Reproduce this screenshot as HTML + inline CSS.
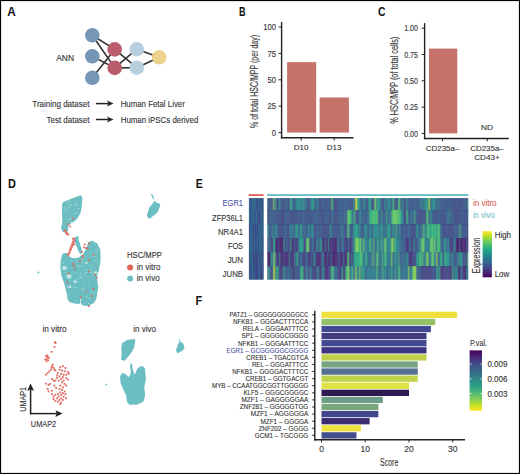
<!DOCTYPE html>
<html><head><meta charset="utf-8"><style>
html,body{margin:0;padding:0;background:#fff;}
svg{display:block;font-family:"Liberation Sans", sans-serif;}
</style></head><body>
<svg width="520" height="474" viewBox="0 0 520 474">
<rect width="520" height="474" fill="#fff"/>
<rect x="0.5" y="0.5" width="519" height="473" fill="none" stroke="#000" stroke-width="1.2"/>
<text x="7.30" y="15.90" font-size="12.3" fill="#111" text-anchor="start" font-weight="bold" textLength="8.50" lengthAdjust="spacingAndGlyphs" >A</text>
<line x1="92.3" y1="35.3" x2="114.7" y2="49.4" stroke="#333" stroke-width="1.6"/>
<line x1="92.3" y1="35.3" x2="114.7" y2="67.9" stroke="#333" stroke-width="1.6"/>
<line x1="92.3" y1="56.3" x2="114.7" y2="67.9" stroke="#333" stroke-width="1.6"/>
<line x1="92.3" y1="77.8" x2="114.7" y2="49.4" stroke="#333" stroke-width="1.6"/>
<line x1="114.7" y1="49.4" x2="136.8" y2="67.7" stroke="#333" stroke-width="1.6"/>
<line x1="114.7" y1="67.9" x2="136.8" y2="49.2" stroke="#333" stroke-width="1.6"/>
<line x1="114.7" y1="67.9" x2="136.8" y2="67.7" stroke="#333" stroke-width="1.6"/>
<line x1="136.8" y1="49.2" x2="159.2" y2="57.3" stroke="#333" stroke-width="1.6"/>
<line x1="136.8" y1="67.7" x2="159.2" y2="57.3" stroke="#333" stroke-width="1.6"/>
<circle cx="92.3" cy="35.3" r="7.3" fill="#7596b6"/>
<circle cx="92.3" cy="56.3" r="7.3" fill="#7596b6"/>
<circle cx="92.3" cy="77.8" r="7.3" fill="#7596b6"/>
<circle cx="114.7" cy="49.4" r="7.3" fill="#b95d6b"/>
<circle cx="114.7" cy="67.9" r="7.3" fill="#b95d6b"/>
<circle cx="136.8" cy="49.2" r="7.3" fill="#b6cede"/>
<circle cx="136.8" cy="67.7" r="7.3" fill="#b6cede"/>
<circle cx="159.2" cy="57.3" r="7.3" fill="#ecd28a"/>
<text x="56.20" y="60.60" font-size="8.6" fill="#333" text-anchor="start" stroke="#333" stroke-width="0.12" textLength="17.80" lengthAdjust="spacingAndGlyphs" >ANN</text>
<text x="32.30" y="107.10" font-size="9" fill="#333" text-anchor="start" stroke="#333" stroke-width="0.12" textLength="57.10" lengthAdjust="spacingAndGlyphs" >Training dataset</text>
<text x="46.60" y="123.10" font-size="9" fill="#333" text-anchor="start" stroke="#333" stroke-width="0.12" textLength="42.80" lengthAdjust="spacingAndGlyphs" >Test dataset</text>
<text x="120.70" y="107.10" font-size="9" fill="#333" text-anchor="start" stroke="#333" stroke-width="0.12" textLength="64.10" lengthAdjust="spacingAndGlyphs" >Human Fetal Liver</text>
<text x="120.70" y="123.10" font-size="9" fill="#333" text-anchor="start" stroke="#333" stroke-width="0.12" textLength="77.60" lengthAdjust="spacingAndGlyphs" >Human iPSCs derived</text>
<line x1="95.9" y1="103.6" x2="109" y2="103.6" stroke="#222" stroke-width="1.5"/>
<path d="M113.5 103.6 L107 100.6 L108.5 103.6 L107 106.6 Z" fill="#222"/>
<line x1="95.9" y1="119.5" x2="109" y2="119.5" stroke="#222" stroke-width="1.5"/>
<path d="M113.5 119.5 L107 116.5 L108.5 119.5 L107 122.5 Z" fill="#222"/>
<text x="239.00" y="15.90" font-size="12.3" fill="#111" text-anchor="start" font-weight="bold" textLength="6.60" lengthAdjust="spacingAndGlyphs" >B</text>
<line x1="281.6" y1="22" x2="281.6" y2="138.4" stroke="#222" stroke-width="1.4"/>
<line x1="280.9" y1="137.7" x2="353.5" y2="137.7" stroke="#222" stroke-width="1.4"/>
<line x1="278.6" y1="132.60" x2="281.6" y2="132.60" stroke="#222" stroke-width="1"/>
<text x="276.00" y="135.70" font-size="8.6" fill="#333" text-anchor="end" stroke="#333" stroke-width="0.12" textLength="4.25" lengthAdjust="spacingAndGlyphs" >0</text>
<line x1="278.6" y1="106.20" x2="281.6" y2="106.20" stroke="#222" stroke-width="1"/>
<text x="276.00" y="109.30" font-size="8.6" fill="#333" text-anchor="end" stroke="#333" stroke-width="0.12" textLength="8.50" lengthAdjust="spacingAndGlyphs" >25</text>
<line x1="278.6" y1="79.80" x2="281.6" y2="79.80" stroke="#222" stroke-width="1"/>
<text x="276.00" y="82.90" font-size="8.6" fill="#333" text-anchor="end" stroke="#333" stroke-width="0.12" textLength="8.50" lengthAdjust="spacingAndGlyphs" >50</text>
<line x1="278.6" y1="53.40" x2="281.6" y2="53.40" stroke="#222" stroke-width="1"/>
<text x="276.00" y="56.50" font-size="8.6" fill="#333" text-anchor="end" stroke="#333" stroke-width="0.12" textLength="8.50" lengthAdjust="spacingAndGlyphs" >75</text>
<line x1="278.6" y1="27.00" x2="281.6" y2="27.00" stroke="#222" stroke-width="1"/>
<text x="276.00" y="30.10" font-size="8.6" fill="#333" text-anchor="end" stroke="#333" stroke-width="0.12" textLength="12.75" lengthAdjust="spacingAndGlyphs" >100</text>
<rect x="287.1" y="62.16" width="29.1" height="70.44" fill="#c5726a"/>
<rect x="319.6" y="97.44" width="29.3" height="35.16" fill="#c5726a"/>
<line x1="301.2" y1="137.7" x2="301.2" y2="140.5" stroke="#222" stroke-width="1"/>
<text x="301.20" y="150.40" font-size="8" fill="#333" text-anchor="middle" stroke="#333" stroke-width="0.12" >D10</text>
<line x1="334.2" y1="137.7" x2="334.2" y2="140.5" stroke="#222" stroke-width="1"/>
<text x="334.20" y="150.40" font-size="8" fill="#333" text-anchor="middle" stroke="#333" stroke-width="0.12" >D13</text>
<text x="258.20" y="81.40" font-size="10.8" fill="#333" text-anchor="middle" stroke="#333" stroke-width="0.12" textLength="93.00" lengthAdjust="spacingAndGlyphs" transform="rotate(-90 258.20 81.40)" >% of total HSC/MPP (per day)</text>
<text x="378.00" y="15.90" font-size="12.3" fill="#111" text-anchor="start" font-weight="bold" textLength="7.50" lengthAdjust="spacingAndGlyphs" >C</text>
<line x1="424.6" y1="23.1" x2="424.6" y2="139.2" stroke="#222" stroke-width="1.4"/>
<line x1="423.9" y1="138.5" x2="508.7" y2="138.5" stroke="#222" stroke-width="1.4"/>
<line x1="421.6" y1="133.40" x2="424.6" y2="133.40" stroke="#222" stroke-width="1"/>
<text x="418.00" y="136.50" font-size="8.6" fill="#333" text-anchor="end" stroke="#333" stroke-width="0.12" textLength="13.80" lengthAdjust="spacingAndGlyphs" >0.00</text>
<line x1="421.6" y1="107.10" x2="424.6" y2="107.10" stroke="#222" stroke-width="1"/>
<text x="418.00" y="110.20" font-size="8.6" fill="#333" text-anchor="end" stroke="#333" stroke-width="0.12" textLength="13.80" lengthAdjust="spacingAndGlyphs" >0.25</text>
<line x1="421.6" y1="80.80" x2="424.6" y2="80.80" stroke="#222" stroke-width="1"/>
<text x="418.00" y="83.90" font-size="8.6" fill="#333" text-anchor="end" stroke="#333" stroke-width="0.12" textLength="13.80" lengthAdjust="spacingAndGlyphs" >0.50</text>
<line x1="421.6" y1="54.50" x2="424.6" y2="54.50" stroke="#222" stroke-width="1"/>
<text x="418.00" y="57.60" font-size="8.6" fill="#333" text-anchor="end" stroke="#333" stroke-width="0.12" textLength="13.80" lengthAdjust="spacingAndGlyphs" >0.75</text>
<line x1="421.6" y1="28.20" x2="424.6" y2="28.20" stroke="#222" stroke-width="1"/>
<text x="418.00" y="31.30" font-size="8.6" fill="#333" text-anchor="end" stroke="#333" stroke-width="0.12" textLength="13.80" lengthAdjust="spacingAndGlyphs" >1.00</text>
<rect x="429" y="48.6" width="28.3" height="84.80" fill="#c5726a"/>
<line x1="442.5" y1="138.5" x2="442.5" y2="141.3" stroke="#222" stroke-width="1"/>
<line x1="487.2" y1="138.5" x2="487.2" y2="141.3" stroke="#222" stroke-width="1"/>
<text x="442.60" y="150.80" font-size="8" fill="#333" text-anchor="middle" stroke="#333" stroke-width="0.12" textLength="33.60" lengthAdjust="spacingAndGlyphs" >CD235a–</text>
<text x="487.00" y="150.80" font-size="8" fill="#333" text-anchor="middle" stroke="#333" stroke-width="0.12" textLength="33.60" lengthAdjust="spacingAndGlyphs" >CD235a–</text>
<text x="487.00" y="160.20" font-size="8" fill="#333" text-anchor="middle" stroke="#333" stroke-width="0.12" textLength="25.60" lengthAdjust="spacingAndGlyphs" >CD43+</text>
<text x="487.00" y="129.80" font-size="8" fill="#333" text-anchor="middle" stroke="#333" stroke-width="0.12" textLength="12.00" lengthAdjust="spacingAndGlyphs" >ND</text>
<text x="398.00" y="80.20" font-size="10.8" fill="#333" text-anchor="middle" stroke="#333" stroke-width="0.12" textLength="87.00" lengthAdjust="spacingAndGlyphs" transform="rotate(-90 398.00 80.20)" >% HSC/MPP (of total cells)</text>
<text x="7.90" y="187.70" font-size="12.3" fill="#111" text-anchor="start" font-weight="bold" textLength="7.90" lengthAdjust="spacingAndGlyphs" >D</text>
<polygon points="62.9,202.3 70.5,199.0 80.6,195.2 82.4,197.2 81.9,205.3 80.6,212.9 76.8,219.2 71.8,223.0 68.5,225.6 68.0,230.6 66.7,233.2 62.9,231.9 61.1,228.1 62.4,221.8 61.9,210.4 62.2,204.0" fill="#6bbec2"/>
<polygon points="60.8,259.9 62.0,255.0 63.5,253.0 67.4,253.0 68.5,255.5 70.5,257.5 75.0,258.2 79.0,257.5 81.0,255.5 82.5,255.0 85.7,249.6 88.4,242.0 92.5,240.7 97.3,243.5 100.2,249.3 100.7,257.0 100.2,263.7 99.2,268.0 98.8,270.9 97.3,273.8 97.3,280.5 98.3,287.2 97.3,293.0 96.3,298.8 94.0,303.0 88.7,306.0 83.8,305.8 81.4,304.5 80.5,302.0 79.5,304.0 74.2,303.6 69.4,302.0 67.5,299.0 67.0,294.0 65.5,289.0 64.1,283.0 61.5,276.0 60.3,268.0" fill="#6bbec2"/>
<polygon points="75.5,237.0 78.5,235.8 78.5,239.5 80.0,244.0 81.5,249.0 82.0,253.0 80.3,254.5 78.5,251.0 76.5,246.5 74.8,242.0 74.5,239.0" fill="#6bbec2"/>
<polygon points="154.4,201.0 155.7,201.0 156.1,202.7 159.5,203.6 160.3,206.1 159.0,208.6 157.8,212.0 155.3,214.5 152.7,216.2 149.8,218.8 147.7,217.5 146.8,215.0 149.3,207.8 152.7,203.6" fill="#6bbec2"/>
<path d="M150.2 193.9 L152.3 194.3 L154.4 198.5 L153.1 198.9 L151.5 195.5 Z" fill="#6bbec2"/>
<circle cx="38.4" cy="272.4" r="1" fill="#6bbec2"/>
<ellipse cx="64.5" cy="268" rx="2.5" ry="2" fill="#fff" opacity="0.6"/>
<ellipse cx="69" cy="276.5" rx="2.5" ry="2.2" fill="#fff" opacity="0.6"/>
<ellipse cx="75.2" cy="281.8" rx="1.8" ry="1.3" fill="#fff" opacity="0.6"/>
<ellipse cx="69.8" cy="286.8" rx="1.4" ry="1.4" fill="#fff" opacity="0.6"/>
<ellipse cx="95.5" cy="272.4" rx="1.5" ry="1.2" fill="#fff" opacity="0.6"/>
<ellipse cx="80.6" cy="300" rx="0.6" ry="2.2" fill="#fff" opacity="0.6"/>
<ellipse cx="86.5" cy="263" rx="1.5" ry="1" fill="#fff" opacity="0.6"/>
<ellipse cx="71.5" cy="222.5" rx="1.2" ry="0.8" fill="#fff" opacity="0.6"/>
<ellipse cx="65" cy="208" rx="0.8" ry="0.8" fill="#fff" opacity="0.6"/>
<rect x="67.0" y="285.7" width="1" height="1" fill="#fff" opacity="0.55"/>
<rect x="86.0" y="272.0" width="1" height="1" fill="#fff" opacity="0.55"/>
<rect x="69.0" y="292.5" width="1" height="1" fill="#fff" opacity="0.55"/>
<rect x="92.9" y="274.2" width="1" height="1" fill="#fff" opacity="0.55"/>
<rect x="92.4" y="255.9" width="1" height="1" fill="#fff" opacity="0.55"/>
<rect x="78.6" y="276.7" width="1" height="1" fill="#fff" opacity="0.55"/>
<rect x="74.2" y="272.4" width="1" height="1" fill="#fff" opacity="0.55"/>
<rect x="95.3" y="256.0" width="1" height="1" fill="#fff" opacity="0.55"/>
<rect x="91.8" y="254.3" width="1" height="1" fill="#fff" opacity="0.55"/>
<rect x="90.8" y="290.5" width="1" height="1" fill="#fff" opacity="0.55"/>
<rect x="83.8" y="288.4" width="1" height="1" fill="#fff" opacity="0.55"/>
<rect x="65.2" y="271.8" width="1" height="1" fill="#fff" opacity="0.55"/>
<rect x="93.7" y="253.8" width="1" height="1" fill="#fff" opacity="0.55"/>
<rect x="76.8" y="264.5" width="1" height="1" fill="#fff" opacity="0.55"/>
<rect x="78.5" y="265.9" width="1" height="1" fill="#fff" opacity="0.55"/>
<rect x="80.3" y="272.8" width="1" height="1" fill="#fff" opacity="0.55"/>
<rect x="82.5" y="289.6" width="1" height="1" fill="#fff" opacity="0.55"/>
<rect x="69.3" y="280.5" width="1" height="1" fill="#fff" opacity="0.55"/>
<rect x="82.8" y="281.4" width="1" height="1" fill="#fff" opacity="0.55"/>
<rect x="74.4" y="301.2" width="1" height="1" fill="#fff" opacity="0.55"/>
<rect x="74.3" y="279.7" width="1" height="1" fill="#fff" opacity="0.55"/>
<rect x="91.7" y="265.2" width="1" height="1" fill="#fff" opacity="0.55"/>
<rect x="87.9" y="284.8" width="1" height="1" fill="#fff" opacity="0.55"/>
<rect x="95.7" y="251.3" width="1" height="1" fill="#fff" opacity="0.55"/>
<rect x="91.6" y="272.3" width="1" height="1" fill="#fff" opacity="0.55"/>
<rect x="94.1" y="244.1" width="1" height="1" fill="#fff" opacity="0.55"/>
<rect x="70.7" y="259.6" width="1" height="1" fill="#fff" opacity="0.55"/>
<rect x="63.1" y="262.8" width="1" height="1" fill="#fff" opacity="0.55"/>
<rect x="90.4" y="272.0" width="1" height="1" fill="#fff" opacity="0.55"/>
<rect x="81.5" y="288.3" width="1" height="1" fill="#fff" opacity="0.55"/>
<rect x="94.2" y="292.6" width="1" height="1" fill="#fff" opacity="0.55"/>
<rect x="77.5" y="278.6" width="1" height="1" fill="#fff" opacity="0.55"/>
<rect x="94.6" y="260.8" width="1" height="1" fill="#fff" opacity="0.55"/>
<rect x="81.9" y="258.7" width="1" height="1" fill="#fff" opacity="0.55"/>
<rect x="88.0" y="303.0" width="1" height="1" fill="#fff" opacity="0.55"/>
<rect x="86.3" y="296.3" width="1" height="1" fill="#fff" opacity="0.55"/>
<rect x="83.9" y="257.5" width="1" height="1" fill="#fff" opacity="0.55"/>
<rect x="76.7" y="303.3" width="1" height="1" fill="#fff" opacity="0.55"/>
<rect x="96.9" y="249.4" width="1" height="1" fill="#fff" opacity="0.55"/>
<rect x="82.1" y="261.9" width="1" height="1" fill="#fff" opacity="0.55"/>
<rect x="75.6" y="287.1" width="1" height="1" fill="#fff" opacity="0.55"/>
<rect x="89.0" y="297.8" width="1" height="1" fill="#fff" opacity="0.55"/>
<rect x="91.6" y="292.3" width="1" height="1" fill="#fff" opacity="0.55"/>
<rect x="67.4" y="287.2" width="1" height="1" fill="#fff" opacity="0.55"/>
<rect x="70.5" y="286.2" width="1" height="1" fill="#fff" opacity="0.55"/>
<rect x="76.0" y="260.9" width="1" height="1" fill="#fff" opacity="0.55"/>
<rect x="96.7" y="260.0" width="1" height="1" fill="#fff" opacity="0.55"/>
<rect x="80.6" y="276.6" width="1" height="1" fill="#fff" opacity="0.55"/>
<rect x="84.6" y="273.9" width="1" height="1" fill="#fff" opacity="0.55"/>
<rect x="90.0" y="303.9" width="1" height="1" fill="#fff" opacity="0.55"/>
<rect x="72.8" y="286.4" width="1" height="1" fill="#fff" opacity="0.55"/>
<rect x="81.5" y="277.3" width="1" height="1" fill="#fff" opacity="0.55"/>
<rect x="91.0" y="270.0" width="1" height="1" fill="#fff" opacity="0.55"/>
<rect x="86.3" y="269.6" width="1" height="1" fill="#fff" opacity="0.55"/>
<rect x="81.2" y="266.1" width="1" height="1" fill="#fff" opacity="0.55"/>
<rect x="69.7" y="203.8" width="1" height="1" fill="#fff" opacity="0.55"/>
<rect x="66.4" y="222.0" width="1" height="1" fill="#fff" opacity="0.55"/>
<rect x="70.8" y="204.2" width="1" height="1" fill="#fff" opacity="0.55"/>
<rect x="69.3" y="213.7" width="1" height="1" fill="#fff" opacity="0.55"/>
<rect x="69.3" y="218.6" width="1" height="1" fill="#fff" opacity="0.55"/>
<rect x="67.8" y="207.0" width="1" height="1" fill="#fff" opacity="0.55"/>
<rect x="69.4" y="200.7" width="1" height="1" fill="#fff" opacity="0.55"/>
<rect x="76.9" y="212.8" width="1" height="1" fill="#fff" opacity="0.55"/>
<rect x="76.1" y="203.0" width="1" height="1" fill="#fff" opacity="0.55"/>
<rect x="68.2" y="219.6" width="1" height="1" fill="#fff" opacity="0.55"/>
<rect x="75.6" y="205.1" width="1" height="1" fill="#fff" opacity="0.55"/>
<rect x="65.4" y="217.9" width="1" height="1" fill="#fff" opacity="0.55"/>
<rect x="67.0" y="209.6" width="1" height="1" fill="#fff" opacity="0.55"/>
<rect x="70.4" y="218.6" width="1" height="1" fill="#fff" opacity="0.55"/>
<rect x="67.1" y="201.8" width="1" height="1" fill="#fff" opacity="0.55"/>
<rect x="69.3" y="205.6" width="1" height="1" fill="#fff" opacity="0.55"/>
<rect x="65.1" y="231.7" width="1" height="1" fill="#fff" opacity="0.55"/>
<rect x="76.0" y="204.3" width="1" height="1" fill="#fff" opacity="0.55"/>
<rect x="65.1" y="210.5" width="1" height="1" fill="#fff" opacity="0.55"/>
<rect x="72.9" y="203.8" width="1" height="1" fill="#fff" opacity="0.55"/>
<rect x="74.3" y="213.1" width="1" height="1" fill="#fff" opacity="0.55"/>
<rect x="78.1" y="208.0" width="1" height="1" fill="#fff" opacity="0.55"/>
<circle cx="64.5" cy="231" r="0.95" fill="#e0665c"/>
<circle cx="66" cy="232.5" r="0.95" fill="#e0665c"/>
<circle cx="67.5" cy="233.5" r="0.95" fill="#e0665c"/>
<circle cx="68.5" cy="234.8" r="0.95" fill="#e0665c"/>
<circle cx="66.5" cy="234" r="0.95" fill="#e0665c"/>
<circle cx="70.3" cy="226.4" r="0.95" fill="#e0665c"/>
<circle cx="72.9" cy="218.5" r="0.95" fill="#e0665c"/>
<circle cx="67.7" cy="224.3" r="0.95" fill="#e0665c"/>
<circle cx="65.5" cy="230" r="0.95" fill="#e0665c"/>
<circle cx="73.5" cy="240" r="0.95" fill="#e0665c"/>
<circle cx="74.2" cy="241" r="0.95" fill="#e0665c"/>
<circle cx="72.8" cy="242" r="0.95" fill="#e0665c"/>
<circle cx="73.6" cy="243" r="0.95" fill="#e0665c"/>
<circle cx="72" cy="244" r="0.95" fill="#e0665c"/>
<circle cx="72.8" cy="245" r="0.95" fill="#e0665c"/>
<circle cx="71.3" cy="246" r="0.95" fill="#e0665c"/>
<circle cx="72" cy="247" r="0.95" fill="#e0665c"/>
<circle cx="70.5" cy="248" r="0.95" fill="#e0665c"/>
<circle cx="71.2" cy="249" r="0.95" fill="#e0665c"/>
<circle cx="69.8" cy="250" r="0.95" fill="#e0665c"/>
<circle cx="70.4" cy="251" r="0.95" fill="#e0665c"/>
<circle cx="69" cy="252.5" r="0.95" fill="#e0665c"/>
<circle cx="69.6" cy="253.3" r="0.95" fill="#e0665c"/>
<circle cx="68.3" cy="254.5" r="0.95" fill="#e0665c"/>
<circle cx="68.1" cy="255.6" r="0.95" fill="#e0665c"/>
<circle cx="74.5" cy="238.5" r="0.95" fill="#e0665c"/>
<circle cx="74" cy="244.5" r="0.95" fill="#e0665c"/>
<circle cx="73" cy="238.8" r="0.95" fill="#e0665c"/>
<circle cx="84.8" cy="244.5" r="0.95" fill="#e0665c"/>
<circle cx="83.8" cy="247.4" r="0.95" fill="#e0665c"/>
<circle cx="86" cy="248" r="0.95" fill="#e0665c"/>
<circle cx="87.5" cy="248.5" r="0.95" fill="#e0665c"/>
<circle cx="89" cy="243.5" r="0.95" fill="#e0665c"/>
<circle cx="82" cy="251.7" r="0.95" fill="#e0665c"/>
<circle cx="82.4" cy="255.6" r="0.95" fill="#e0665c"/>
<circle cx="82.9" cy="257.5" r="0.95" fill="#e0665c"/>
<circle cx="88.7" cy="259.9" r="0.95" fill="#e0665c"/>
<circle cx="93.5" cy="255" r="0.95" fill="#e0665c"/>
<circle cx="73.3" cy="263.7" r="0.95" fill="#e0665c"/>
<circle cx="74" cy="266" r="0.95" fill="#e0665c"/>
<circle cx="80" cy="261" r="0.95" fill="#e0665c"/>
<circle cx="68.5" cy="273.3" r="0.95" fill="#e0665c"/>
<circle cx="67.5" cy="282.4" r="0.95" fill="#e0665c"/>
<circle cx="80.5" cy="297.3" r="0.95" fill="#e0665c"/>
<circle cx="85.8" cy="291.6" r="0.95" fill="#e0665c"/>
<circle cx="93.5" cy="288.7" r="0.95" fill="#e0665c"/>
<circle cx="94.9" cy="274.7" r="0.95" fill="#e0665c"/>
<circle cx="96.8" cy="277.6" r="0.95" fill="#e0665c"/>
<circle cx="88.7" cy="271.4" r="0.95" fill="#e0665c"/>
<circle cx="92" cy="295.9" r="0.95" fill="#e0665c"/>
<circle cx="74.7" cy="269.4" r="0.95" fill="#e0665c"/>
<circle cx="89" cy="306" r="0.95" fill="#e0665c"/>
<text x="127.00" y="257.80" font-size="8.7" fill="#333" text-anchor="start" stroke="#333" stroke-width="0.12" textLength="35.00" lengthAdjust="spacingAndGlyphs" >HSC/MPP</text>
<circle cx="130.1" cy="267.6" r="3" fill="#e0665c"/>
<circle cx="130.1" cy="278.6" r="3" fill="#6bbec2"/>
<text x="136.80" y="269.90" font-size="8.7" fill="#333" text-anchor="start" stroke="#333" stroke-width="0.12" textLength="23.60" lengthAdjust="spacingAndGlyphs" >in vitro</text>
<text x="136.80" y="281.10" font-size="8.7" fill="#333" text-anchor="start" stroke="#333" stroke-width="0.12" textLength="22.90" lengthAdjust="spacingAndGlyphs" >in vivo</text>
<text x="42.40" y="331.60" font-size="8.7" fill="#333" text-anchor="start" stroke="#333" stroke-width="0.12" textLength="24.30" lengthAdjust="spacingAndGlyphs" >in vitro</text>
<text x="133.20" y="331.80" font-size="8.7" fill="#333" text-anchor="start" stroke="#333" stroke-width="0.12" textLength="22.80" lengthAdjust="spacingAndGlyphs" >in vivo</text>
<rect x="54.0" y="341.2" width="1.8" height="1.8" fill="#e0665c"/>
<rect x="54.7" y="342.2" width="1.8" height="1.8" fill="#e0665c"/>
<rect x="53.5" y="346.0" width="1.8" height="1.8" fill="#e0665c"/>
<rect x="50.7" y="351.0" width="1.8" height="1.8" fill="#e0665c"/>
<rect x="45.1" y="355.2" width="1.8" height="1.8" fill="#e0665c"/>
<rect x="46.8" y="356.1" width="1.8" height="1.8" fill="#e0665c"/>
<rect x="46.0" y="357.8" width="1.8" height="1.8" fill="#e0665c"/>
<rect x="44.3" y="358.6" width="1.8" height="1.8" fill="#e0665c"/>
<rect x="47.3" y="359.4" width="1.8" height="1.8" fill="#e0665c"/>
<rect x="45.6" y="360.3" width="1.8" height="1.8" fill="#e0665c"/>
<rect x="48.0" y="356.9" width="1.8" height="1.8" fill="#e0665c"/>
<rect x="46.5" y="354.4" width="1.8" height="1.8" fill="#e0665c"/>
<rect x="51.9" y="363.7" width="1.8" height="1.8" fill="#e0665c"/>
<rect x="51.0" y="365.3" width="1.8" height="1.8" fill="#e0665c"/>
<rect x="52.7" y="367.0" width="1.8" height="1.8" fill="#e0665c"/>
<rect x="50.2" y="368.7" width="1.8" height="1.8" fill="#e0665c"/>
<rect x="54.4" y="369.6" width="1.8" height="1.8" fill="#e0665c"/>
<rect x="48.5" y="370.4" width="1.8" height="1.8" fill="#e0665c"/>
<rect x="46.8" y="372.1" width="1.8" height="1.8" fill="#e0665c"/>
<rect x="45.1" y="373.8" width="1.8" height="1.8" fill="#e0665c"/>
<rect x="50.7" y="366.5" width="1.8" height="1.8" fill="#e0665c"/>
<rect x="53.5" y="368.7" width="1.8" height="1.8" fill="#e0665c"/>
<rect x="59.4" y="366.2" width="1.8" height="1.8" fill="#e0665c"/>
<rect x="62.0" y="365.3" width="1.8" height="1.8" fill="#e0665c"/>
<rect x="64.5" y="367.0" width="1.8" height="1.8" fill="#e0665c"/>
<rect x="58.6" y="368.7" width="1.8" height="1.8" fill="#e0665c"/>
<rect x="61.1" y="369.6" width="1.8" height="1.8" fill="#e0665c"/>
<rect x="63.7" y="370.4" width="1.8" height="1.8" fill="#e0665c"/>
<rect x="67.0" y="371.2" width="1.8" height="1.8" fill="#e0665c"/>
<rect x="56.9" y="372.1" width="1.8" height="1.8" fill="#e0665c"/>
<rect x="60.3" y="372.9" width="1.8" height="1.8" fill="#e0665c"/>
<rect x="62.8" y="373.8" width="1.8" height="1.8" fill="#e0665c"/>
<rect x="65.3" y="373.8" width="1.8" height="1.8" fill="#e0665c"/>
<rect x="67.9" y="372.9" width="1.8" height="1.8" fill="#e0665c"/>
<rect x="56.1" y="374.6" width="1.8" height="1.8" fill="#e0665c"/>
<rect x="58.6" y="375.5" width="1.8" height="1.8" fill="#e0665c"/>
<rect x="62.0" y="376.3" width="1.8" height="1.8" fill="#e0665c"/>
<rect x="65.3" y="377.1" width="1.8" height="1.8" fill="#e0665c"/>
<rect x="60.3" y="378.0" width="1.8" height="1.8" fill="#e0665c"/>
<rect x="62.8" y="379.7" width="1.8" height="1.8" fill="#e0665c"/>
<rect x="67.0" y="378.8" width="1.8" height="1.8" fill="#e0665c"/>
<rect x="57.8" y="379.7" width="1.8" height="1.8" fill="#e0665c"/>
<rect x="61.1" y="381.4" width="1.8" height="1.8" fill="#e0665c"/>
<rect x="63.7" y="383.0" width="1.8" height="1.8" fill="#e0665c"/>
<rect x="65.3" y="384.7" width="1.8" height="1.8" fill="#e0665c"/>
<rect x="59.4" y="384.7" width="1.8" height="1.8" fill="#e0665c"/>
<rect x="62.0" y="386.4" width="1.8" height="1.8" fill="#e0665c"/>
<rect x="56.1" y="377.1" width="1.8" height="1.8" fill="#e0665c"/>
<rect x="54.4" y="379.7" width="1.8" height="1.8" fill="#e0665c"/>
<rect x="51.0" y="378.0" width="1.8" height="1.8" fill="#e0665c"/>
<rect x="52.7" y="379.7" width="1.8" height="1.8" fill="#e0665c"/>
<rect x="49.3" y="383.0" width="1.8" height="1.8" fill="#e0665c"/>
<rect x="45.1" y="382.7" width="1.8" height="1.8" fill="#e0665c"/>
<rect x="47.6" y="383.9" width="1.8" height="1.8" fill="#e0665c"/>
<rect x="53.5" y="384.7" width="1.8" height="1.8" fill="#e0665c"/>
<rect x="55.2" y="387.2" width="1.8" height="1.8" fill="#e0665c"/>
<rect x="46.8" y="388.1" width="1.8" height="1.8" fill="#e0665c"/>
<rect x="47.6" y="390.6" width="1.8" height="1.8" fill="#e0665c"/>
<rect x="51.0" y="389.8" width="1.8" height="1.8" fill="#e0665c"/>
<rect x="58.6" y="388.1" width="1.8" height="1.8" fill="#e0665c"/>
<rect x="61.1" y="388.9" width="1.8" height="1.8" fill="#e0665c"/>
<rect x="63.7" y="390.6" width="1.8" height="1.8" fill="#e0665c"/>
<rect x="59.4" y="391.5" width="1.8" height="1.8" fill="#e0665c"/>
<rect x="62.0" y="392.3" width="1.8" height="1.8" fill="#e0665c"/>
<rect x="56.9" y="393.1" width="1.8" height="1.8" fill="#e0665c"/>
<rect x="64.5" y="393.1" width="1.8" height="1.8" fill="#e0665c"/>
<rect x="60.3" y="394.0" width="1.8" height="1.8" fill="#e0665c"/>
<rect x="54.4" y="394.0" width="1.8" height="1.8" fill="#e0665c"/>
<rect x="57.8" y="395.7" width="1.8" height="1.8" fill="#e0665c"/>
<rect x="62.8" y="395.7" width="1.8" height="1.8" fill="#e0665c"/>
<rect x="52.7" y="395.7" width="1.8" height="1.8" fill="#e0665c"/>
<rect x="56.1" y="397.4" width="1.8" height="1.8" fill="#e0665c"/>
<rect x="60.3" y="397.4" width="1.8" height="1.8" fill="#e0665c"/>
<rect x="65.3" y="397.4" width="1.8" height="1.8" fill="#e0665c"/>
<rect x="52.7" y="398.2" width="1.8" height="1.8" fill="#e0665c"/>
<rect x="58.6" y="399.0" width="1.8" height="1.8" fill="#e0665c"/>
<rect x="62.0" y="399.0" width="1.8" height="1.8" fill="#e0665c"/>
<rect x="56.9" y="400.7" width="1.8" height="1.8" fill="#e0665c"/>
<rect x="60.3" y="401.6" width="1.8" height="1.8" fill="#e0665c"/>
<rect x="54.4" y="399.9" width="1.8" height="1.8" fill="#e0665c"/>
<rect x="59.4" y="403.3" width="1.8" height="1.8" fill="#e0665c"/>
<rect x="51.0" y="393.1" width="1.8" height="1.8" fill="#e0665c"/>
<polygon points="134.8,339.0 127.7,339.8 122.1,342.9 121.3,347.7 121.7,354.0 121.0,359.5 124.5,361.1 127.7,357.2 131.6,352.4 134.0,347.7 135.3,341.3" fill="#6bbec2"/>
<polygon points="130.8,362.7 132.1,364.3 132.4,368.3 134.0,373.0 134.8,374.6 137.2,369.0 139.5,366.7 142.7,365.9 145.1,369.0 145.9,379.3 144.3,387.3 145.1,395.2 143.5,401.5 137.2,404.7 129.3,404.7 126.9,401.5 126.1,395.2 122.9,388.8 120.5,382.5 120.1,376.2 122.1,373.0 125.3,373.8 128.5,377.0 130.0,375.4 130.8,371.4 130.0,366.7" fill="#6bbec2"/>
<polygon points="178.8,338.0 180.7,341.8 183.5,343.7 184.5,348.5 181.6,351.3 177.8,353.2 175.9,350.4 177.8,344.7 179.4,341.9" fill="#6bbec2"/>
<circle cx="106.3" cy="384.6" r="0.9" fill="#6bbec2"/>
<line x1="30.6" y1="389" x2="30.6" y2="414.3" stroke="#222" stroke-width="1.5"/>
<path d="M30.6 383.6 L34 390.8 L30.6 389.4 L27.2 390.8 Z" fill="#222"/>
<line x1="29.9" y1="413.6" x2="57" y2="413.6" stroke="#222" stroke-width="1.5"/>
<path d="M62.5 413.6 L55.4 410.2 L56.8 413.6 L55.4 417 Z" fill="#222"/>
<text x="26.40" y="399.40" font-size="9.8" fill="#333" text-anchor="middle" stroke="#333" stroke-width="0.12" textLength="24.70" lengthAdjust="spacingAndGlyphs" transform="rotate(-90 26.40 399.40)" >UMAP1</text>
<text x="43.50" y="426.90" font-size="9.8" fill="#333" text-anchor="middle" stroke="#333" stroke-width="0.12" textLength="25.30" lengthAdjust="spacingAndGlyphs" >UMAP2</text>
<text x="195.80" y="187.90" font-size="12.3" fill="#111" text-anchor="start" font-weight="bold" textLength="7.00" lengthAdjust="spacingAndGlyphs" >E</text>
<rect x="248.7" y="194.1" width="14.9" height="1.9" fill="#e0665c"/>
<rect x="267.1" y="194.1" width="201.2" height="1.9" fill="#6bbec2"/>
<text x="243.00" y="206.30" font-size="9.2" fill="#4d55a8" text-anchor="end" stroke="#4d55a8" stroke-width="0.12" textLength="20.40" lengthAdjust="spacingAndGlyphs" >EGR1</text>
<text x="243.00" y="220.60" font-size="9.2" fill="#333" text-anchor="end" stroke="#333" stroke-width="0.12" textLength="30.90" lengthAdjust="spacingAndGlyphs" >ZFP36L1</text>
<text x="243.00" y="234.50" font-size="9.2" fill="#333" text-anchor="end" stroke="#333" stroke-width="0.12" textLength="25.00" lengthAdjust="spacingAndGlyphs" >NR4A1</text>
<text x="243.00" y="249.30" font-size="9.2" fill="#333" text-anchor="end" stroke="#333" stroke-width="0.12" textLength="15.10" lengthAdjust="spacingAndGlyphs" >FOS</text>
<text x="243.00" y="263.20" font-size="9.2" fill="#333" text-anchor="end" stroke="#333" stroke-width="0.12" textLength="15.30" lengthAdjust="spacingAndGlyphs" >JUN</text>
<text x="243.00" y="277.20" font-size="9.2" fill="#333" text-anchor="end" stroke="#333" stroke-width="0.12" textLength="20.40" lengthAdjust="spacingAndGlyphs" >JUNB</text>
<rect x="267.30" y="198.10" width="1.5" height="12.60" fill="#395a89"/>
<rect x="268.30" y="198.10" width="1.5" height="12.60" fill="#3b5588"/>
<rect x="269.30" y="198.10" width="1.5" height="12.60" fill="#3b5588"/>
<rect x="270.30" y="198.10" width="1.5" height="12.60" fill="#3c5387"/>
<rect x="271.30" y="198.10" width="1.5" height="12.60" fill="#3c5287"/>
<rect x="272.30" y="198.10" width="1.5" height="12.60" fill="#4b647d"/>
<rect x="273.30" y="198.10" width="1.5" height="12.60" fill="#7fb057"/>
<rect x="274.30" y="198.10" width="1.5" height="12.60" fill="#437a7f"/>
<rect x="275.30" y="198.10" width="1.5" height="12.60" fill="#2c8e86"/>
<rect x="276.30" y="198.10" width="1.5" height="12.60" fill="#395c85"/>
<rect x="277.30" y="198.10" width="1.5" height="12.60" fill="#423c7d"/>
<rect x="278.30" y="198.10" width="1.5" height="12.60" fill="#366387"/>
<rect x="279.30" y="198.10" width="1.5" height="12.60" fill="#2c8f85"/>
<rect x="280.30" y="198.10" width="1.5" height="12.60" fill="#395f87"/>
<rect x="281.30" y="198.10" width="1.5" height="12.60" fill="#3e4e86"/>
<rect x="282.30" y="198.10" width="1.5" height="12.60" fill="#3b5487"/>
<rect x="283.30" y="198.10" width="1.5" height="12.60" fill="#3d5086"/>
<rect x="284.30" y="198.10" width="1.5" height="12.60" fill="#3d4e86"/>
<rect x="285.30" y="198.10" width="1.5" height="12.60" fill="#375d8a"/>
<rect x="286.30" y="198.10" width="1.5" height="12.60" fill="#35648a"/>
<rect x="287.30" y="198.10" width="1.5" height="12.60" fill="#3c5287"/>
<rect x="288.30" y="198.10" width="1.5" height="12.60" fill="#3d5187"/>
<rect x="289.30" y="198.10" width="1.5" height="12.60" fill="#386987"/>
<rect x="290.30" y="198.10" width="1.5" height="12.60" fill="#34a17f"/>
<rect x="291.30" y="198.10" width="1.5" height="12.60" fill="#2a9287"/>
<rect x="292.30" y="198.10" width="1.5" height="12.60" fill="#336a8a"/>
<rect x="293.30" y="198.10" width="1.5" height="12.60" fill="#395888"/>
<rect x="294.30" y="198.10" width="1.5" height="12.60" fill="#3c5287"/>
<rect x="295.30" y="198.10" width="1.5" height="12.60" fill="#30708b"/>
<rect x="296.30" y="198.10" width="1.5" height="12.60" fill="#29828b"/>
<rect x="297.30" y="198.10" width="1.5" height="12.60" fill="#28858b"/>
<rect x="298.30" y="198.10" width="1.5" height="12.60" fill="#28858b"/>
<rect x="299.30" y="198.10" width="1.5" height="12.60" fill="#29848b"/>
<rect x="300.30" y="198.10" width="1.5" height="12.60" fill="#29838b"/>
<rect x="301.30" y="198.10" width="1.5" height="12.60" fill="#2b7d8b"/>
<rect x="302.30" y="198.10" width="1.5" height="12.60" fill="#337189"/>
<rect x="303.30" y="198.10" width="1.5" height="12.60" fill="#359481"/>
<rect x="304.30" y="198.10" width="1.5" height="12.60" fill="#386685"/>
<rect x="305.30" y="198.10" width="1.5" height="12.60" fill="#2c7c89"/>
<rect x="306.30" y="198.10" width="1.5" height="12.60" fill="#395a88"/>
<rect x="307.30" y="198.10" width="1.5" height="12.60" fill="#3c5287"/>
<rect x="308.30" y="198.10" width="1.5" height="12.60" fill="#3b5387"/>
<rect x="309.30" y="198.10" width="1.5" height="12.60" fill="#3b5487"/>
<rect x="310.30" y="198.10" width="1.5" height="12.60" fill="#366588"/>
<rect x="311.30" y="198.10" width="1.5" height="12.60" fill="#299b84"/>
<rect x="312.30" y="198.10" width="1.5" height="12.60" fill="#299b84"/>
<rect x="313.30" y="198.10" width="1.5" height="12.60" fill="#336f88"/>
<rect x="314.30" y="198.10" width="1.5" height="12.60" fill="#2c8188"/>
<rect x="315.30" y="198.10" width="1.5" height="12.60" fill="#3a5987"/>
<rect x="316.30" y="198.10" width="1.5" height="12.60" fill="#395d87"/>
<rect x="317.30" y="198.10" width="1.5" height="12.60" fill="#2d8786"/>
<rect x="318.30" y="198.10" width="1.5" height="12.60" fill="#395d87"/>
<rect x="319.30" y="198.10" width="1.5" height="12.60" fill="#404784"/>
<rect x="320.30" y="198.10" width="1.5" height="12.60" fill="#404684"/>
<rect x="321.30" y="198.10" width="1.5" height="12.60" fill="#395889"/>
<rect x="322.30" y="198.10" width="1.5" height="12.60" fill="#3a5889"/>
<rect x="323.30" y="198.10" width="1.5" height="12.60" fill="#3a5888"/>
<rect x="324.30" y="198.10" width="1.5" height="12.60" fill="#395989"/>
<rect x="325.30" y="198.10" width="1.5" height="12.60" fill="#3d4f87"/>
<rect x="326.30" y="198.10" width="1.5" height="12.60" fill="#3c5287"/>
<rect x="327.30" y="198.10" width="1.5" height="12.60" fill="#395989"/>
<rect x="328.30" y="198.10" width="1.5" height="12.60" fill="#385c8a"/>
<rect x="329.30" y="198.10" width="1.5" height="12.60" fill="#3b5388"/>
<rect x="330.30" y="198.10" width="1.5" height="12.60" fill="#46577e"/>
<rect x="331.30" y="198.10" width="1.5" height="12.60" fill="#54ab6d"/>
<rect x="332.30" y="198.10" width="1.5" height="12.60" fill="#339282"/>
<rect x="333.30" y="198.10" width="1.5" height="12.60" fill="#3d5084"/>
<rect x="334.30" y="198.10" width="1.5" height="12.60" fill="#414584"/>
<rect x="335.30" y="198.10" width="1.5" height="12.60" fill="#3d4e86"/>
<rect x="336.30" y="198.10" width="1.5" height="12.60" fill="#3e4d86"/>
<rect x="337.30" y="198.10" width="1.5" height="12.60" fill="#3c5287"/>
<rect x="338.30" y="198.10" width="1.5" height="12.60" fill="#385a89"/>
<rect x="339.30" y="198.10" width="1.5" height="12.60" fill="#375d8a"/>
<rect x="340.30" y="198.10" width="1.5" height="12.60" fill="#375d8a"/>
<rect x="341.30" y="198.10" width="1.5" height="12.60" fill="#395989"/>
<rect x="342.30" y="198.10" width="1.5" height="12.60" fill="#395889"/>
<rect x="343.30" y="198.10" width="1.5" height="12.60" fill="#385b89"/>
<rect x="344.30" y="198.10" width="1.5" height="12.60" fill="#35628a"/>
<rect x="345.30" y="198.10" width="1.5" height="12.60" fill="#385a89"/>
<rect x="346.30" y="198.10" width="1.5" height="12.60" fill="#395888"/>
<rect x="347.30" y="198.10" width="1.5" height="12.60" fill="#395989"/>
<rect x="348.30" y="198.10" width="1.5" height="12.60" fill="#3a5688"/>
<rect x="349.30" y="198.10" width="1.5" height="12.60" fill="#375d8a"/>
<rect x="350.30" y="198.10" width="1.5" height="12.60" fill="#385b8a"/>
<rect x="351.30" y="198.10" width="1.5" height="12.60" fill="#3e4d86"/>
<rect x="352.30" y="198.10" width="1.5" height="12.60" fill="#395b87"/>
<rect x="353.30" y="198.10" width="1.5" height="12.60" fill="#2b8089"/>
<rect x="354.30" y="198.10" width="1.5" height="12.60" fill="#4a757c"/>
<rect x="355.30" y="198.10" width="1.5" height="12.60" fill="#a9c93b"/>
<rect x="356.30" y="198.10" width="1.5" height="12.60" fill="#a7d13c"/>
<rect x="357.30" y="198.10" width="1.5" height="12.60" fill="#3d997c"/>
<rect x="358.30" y="198.10" width="1.5" height="12.60" fill="#269289"/>
<rect x="359.30" y="198.10" width="1.5" height="12.60" fill="#29848b"/>
<rect x="360.30" y="198.10" width="1.5" height="12.60" fill="#326a8a"/>
<rect x="361.30" y="198.10" width="1.5" height="12.60" fill="#3a5888"/>
<rect x="362.30" y="198.10" width="1.5" height="12.60" fill="#3a5686"/>
<rect x="363.30" y="198.10" width="1.5" height="12.60" fill="#2a808a"/>
<rect x="364.30" y="198.10" width="1.5" height="12.60" fill="#2b808b"/>
<rect x="365.30" y="198.10" width="1.5" height="12.60" fill="#395a88"/>
<rect x="366.30" y="198.10" width="1.5" height="12.60" fill="#3c5187"/>
<rect x="367.30" y="198.10" width="1.5" height="12.60" fill="#3a5887"/>
<rect x="368.30" y="198.10" width="1.5" height="12.60" fill="#298b89"/>
<rect x="369.30" y="198.10" width="1.5" height="12.60" fill="#269e86"/>
<rect x="370.30" y="198.10" width="1.5" height="12.60" fill="#299586"/>
<rect x="371.30" y="198.10" width="1.5" height="12.60" fill="#385f87"/>
<rect x="372.30" y="198.10" width="1.5" height="12.60" fill="#404885"/>
<rect x="373.30" y="198.10" width="1.5" height="12.60" fill="#445c80"/>
<rect x="374.30" y="198.10" width="1.5" height="12.60" fill="#5db368"/>
<rect x="375.30" y="198.10" width="1.5" height="12.60" fill="#5cb569"/>
<rect x="376.30" y="198.10" width="1.5" height="12.60" fill="#3d7282"/>
<rect x="377.30" y="198.10" width="1.5" height="12.60" fill="#299685"/>
<rect x="378.30" y="198.10" width="1.5" height="12.60" fill="#269b87"/>
<rect x="379.30" y="198.10" width="1.5" height="12.60" fill="#299188"/>
<rect x="380.30" y="198.10" width="1.5" height="12.60" fill="#35678a"/>
<rect x="381.30" y="198.10" width="1.5" height="12.60" fill="#3b5688"/>
<rect x="382.30" y="198.10" width="1.5" height="12.60" fill="#3d5087"/>
<rect x="383.30" y="198.10" width="1.5" height="12.60" fill="#3b5687"/>
<rect x="384.30" y="198.10" width="1.5" height="12.60" fill="#2c7b8a"/>
<rect x="385.30" y="198.10" width="1.5" height="12.60" fill="#2c7b8b"/>
<rect x="386.30" y="198.10" width="1.5" height="12.60" fill="#366088"/>
<rect x="387.30" y="198.10" width="1.5" height="12.60" fill="#2b7e8a"/>
<rect x="388.30" y="198.10" width="1.5" height="12.60" fill="#26918a"/>
<rect x="389.30" y="198.10" width="1.5" height="12.60" fill="#288a89"/>
<rect x="390.30" y="198.10" width="1.5" height="12.60" fill="#375f88"/>
<rect x="391.30" y="198.10" width="1.5" height="12.60" fill="#356789"/>
<rect x="392.30" y="198.10" width="1.5" height="12.60" fill="#2e9884"/>
<rect x="393.30" y="198.10" width="1.5" height="12.60" fill="#41a778"/>
<rect x="394.30" y="198.10" width="1.5" height="12.60" fill="#405d83"/>
<rect x="395.30" y="198.10" width="1.5" height="12.60" fill="#3f4b86"/>
<rect x="396.30" y="198.10" width="1.5" height="12.60" fill="#3b5588"/>
<rect x="397.30" y="198.10" width="1.5" height="12.60" fill="#3c6685"/>
<rect x="398.30" y="198.10" width="1.5" height="12.60" fill="#46ad75"/>
<rect x="399.30" y="198.10" width="1.5" height="12.60" fill="#46ac75"/>
<rect x="400.30" y="198.10" width="1.5" height="12.60" fill="#3d6484"/>
<rect x="401.30" y="198.10" width="1.5" height="12.60" fill="#2f738b"/>
<rect x="402.30" y="198.10" width="1.5" height="12.60" fill="#2d798b"/>
<rect x="403.30" y="198.10" width="1.5" height="12.60" fill="#376089"/>
<rect x="404.30" y="198.10" width="1.5" height="12.60" fill="#3d4f86"/>
<rect x="405.30" y="198.10" width="1.5" height="12.60" fill="#3c5785"/>
<rect x="406.30" y="198.10" width="1.5" height="12.60" fill="#2d8a85"/>
<rect x="407.30" y="198.10" width="1.5" height="12.60" fill="#376388"/>
<rect x="408.30" y="198.10" width="1.5" height="12.60" fill="#3b5688"/>
<rect x="409.30" y="198.10" width="1.5" height="12.60" fill="#395b89"/>
<rect x="410.30" y="198.10" width="1.5" height="12.60" fill="#395a89"/>
<rect x="411.30" y="198.10" width="1.5" height="12.60" fill="#3c5187"/>
<rect x="412.30" y="198.10" width="1.5" height="12.60" fill="#395989"/>
<rect x="413.30" y="198.10" width="1.5" height="12.60" fill="#375d8a"/>
<rect x="414.30" y="198.10" width="1.5" height="12.60" fill="#3b5488"/>
<rect x="415.30" y="198.10" width="1.5" height="12.60" fill="#34648a"/>
<rect x="416.30" y="198.10" width="1.5" height="12.60" fill="#3a5788"/>
<rect x="417.30" y="198.10" width="1.5" height="12.60" fill="#3b5487"/>
<rect x="418.30" y="198.10" width="1.5" height="12.60" fill="#3a5889"/>
<rect x="419.30" y="198.10" width="1.5" height="12.60" fill="#366089"/>
<rect x="420.30" y="198.10" width="1.5" height="12.60" fill="#2b7e8a"/>
<rect x="421.30" y="198.10" width="1.5" height="12.60" fill="#33688a"/>
<rect x="422.30" y="198.10" width="1.5" height="12.60" fill="#2e768b"/>
<rect x="423.30" y="198.10" width="1.5" height="12.60" fill="#33688a"/>
<rect x="424.30" y="198.10" width="1.5" height="12.60" fill="#29828a"/>
<rect x="425.30" y="198.10" width="1.5" height="12.60" fill="#288d89"/>
<rect x="426.30" y="198.10" width="1.5" height="12.60" fill="#2e9883"/>
<rect x="427.30" y="198.10" width="1.5" height="12.60" fill="#41767f"/>
<rect x="428.30" y="198.10" width="1.5" height="12.60" fill="#72bd5d"/>
<rect x="429.30" y="198.10" width="1.5" height="12.60" fill="#74ba5c"/>
<rect x="430.30" y="198.10" width="1.5" height="12.60" fill="#47607d"/>
<rect x="431.30" y="198.10" width="1.5" height="12.60" fill="#2e738b"/>
<rect x="432.30" y="198.10" width="1.5" height="12.60" fill="#2a818b"/>
<rect x="433.30" y="198.10" width="1.5" height="12.60" fill="#279887"/>
<rect x="434.30" y="198.10" width="1.5" height="12.60" fill="#2a8689"/>
<rect x="435.30" y="198.10" width="1.5" height="12.60" fill="#395a87"/>
<rect x="436.30" y="198.10" width="1.5" height="12.60" fill="#316e8a"/>
<rect x="437.30" y="198.10" width="1.5" height="12.60" fill="#375d88"/>
<rect x="438.30" y="198.10" width="1.5" height="12.60" fill="#2d7989"/>
<rect x="439.30" y="198.10" width="1.5" height="12.60" fill="#395887"/>
<rect x="440.30" y="198.10" width="1.5" height="12.60" fill="#395889"/>
<rect x="441.30" y="198.10" width="1.5" height="12.60" fill="#395a89"/>
<rect x="442.30" y="198.10" width="1.5" height="12.60" fill="#395b89"/>
<rect x="443.30" y="198.10" width="1.5" height="12.60" fill="#3a5888"/>
<rect x="444.30" y="198.10" width="1.5" height="12.60" fill="#3a5888"/>
<rect x="445.30" y="198.10" width="1.5" height="12.60" fill="#3a5788"/>
<rect x="446.30" y="198.10" width="1.5" height="12.60" fill="#3b5388"/>
<rect x="447.30" y="198.10" width="1.5" height="12.60" fill="#3a5789"/>
<rect x="448.30" y="198.10" width="1.5" height="12.60" fill="#3a5789"/>
<rect x="449.30" y="198.10" width="1.5" height="12.60" fill="#3b5487"/>
<rect x="450.30" y="198.10" width="1.5" height="12.60" fill="#3b5487"/>
<rect x="451.30" y="198.10" width="1.5" height="12.60" fill="#3a5688"/>
<rect x="452.30" y="198.10" width="1.5" height="12.60" fill="#3e4c86"/>
<rect x="453.30" y="198.10" width="1.5" height="12.60" fill="#3f4b85"/>
<rect x="454.30" y="198.10" width="1.5" height="12.60" fill="#3d5187"/>
<rect x="455.30" y="198.10" width="1.5" height="12.60" fill="#3c5287"/>
<rect x="456.30" y="198.10" width="1.5" height="12.60" fill="#3c5287"/>
<rect x="457.30" y="198.10" width="1.5" height="12.60" fill="#3c5287"/>
<rect x="458.30" y="198.10" width="1.5" height="12.60" fill="#3d4f86"/>
<rect x="459.30" y="198.10" width="1.5" height="12.60" fill="#3e4d86"/>
<rect x="460.30" y="198.10" width="1.5" height="12.60" fill="#3e4e86"/>
<rect x="461.30" y="198.10" width="1.5" height="12.60" fill="#3d4f86"/>
<rect x="462.30" y="198.10" width="1.5" height="12.60" fill="#3b5488"/>
<rect x="463.30" y="198.10" width="1.5" height="12.60" fill="#3b5287"/>
<rect x="464.30" y="198.10" width="1.5" height="12.60" fill="#395989"/>
<rect x="465.30" y="198.10" width="1.5" height="12.60" fill="#3c5187"/>
<rect x="466.30" y="198.10" width="1.5" height="12.60" fill="#395a88"/>
<rect x="467.30" y="198.10" width="1.0" height="12.60" fill="#2b7c8b"/>
<rect x="267.30" y="210.00" width="1.5" height="14.70" fill="#414281"/>
<rect x="268.30" y="210.00" width="1.5" height="14.70" fill="#3c5286"/>
<rect x="269.30" y="210.00" width="1.5" height="14.70" fill="#395a89"/>
<rect x="270.30" y="210.00" width="1.5" height="14.70" fill="#385c89"/>
<rect x="271.30" y="210.00" width="1.5" height="14.70" fill="#375d89"/>
<rect x="272.30" y="210.00" width="1.5" height="14.70" fill="#375c8a"/>
<rect x="273.30" y="210.00" width="1.5" height="14.70" fill="#3a5789"/>
<rect x="274.30" y="210.00" width="1.5" height="14.70" fill="#395989"/>
<rect x="275.30" y="210.00" width="1.5" height="14.70" fill="#395a89"/>
<rect x="276.30" y="210.00" width="1.5" height="14.70" fill="#3e4b85"/>
<rect x="277.30" y="210.00" width="1.5" height="14.70" fill="#395889"/>
<rect x="278.30" y="210.00" width="1.5" height="14.70" fill="#3c5287"/>
<rect x="279.30" y="210.00" width="1.5" height="14.70" fill="#3d4f87"/>
<rect x="280.30" y="210.00" width="1.5" height="14.70" fill="#395888"/>
<rect x="281.30" y="210.00" width="1.5" height="14.70" fill="#414382"/>
<rect x="282.30" y="210.00" width="1.5" height="14.70" fill="#404684"/>
<rect x="283.30" y="210.00" width="1.5" height="14.70" fill="#3f4985"/>
<rect x="284.30" y="210.00" width="1.5" height="14.70" fill="#3c5287"/>
<rect x="285.30" y="210.00" width="1.5" height="14.70" fill="#326a8a"/>
<rect x="286.30" y="210.00" width="1.5" height="14.70" fill="#3b5687"/>
<rect x="287.30" y="210.00" width="1.5" height="14.70" fill="#3b5688"/>
<rect x="288.30" y="210.00" width="1.5" height="14.70" fill="#3a5688"/>
<rect x="289.30" y="210.00" width="1.5" height="14.70" fill="#3b5387"/>
<rect x="290.30" y="210.00" width="1.5" height="14.70" fill="#3d4f86"/>
<rect x="291.30" y="210.00" width="1.5" height="14.70" fill="#3e4c86"/>
<rect x="292.30" y="210.00" width="1.5" height="14.70" fill="#3e4b85"/>
<rect x="293.30" y="210.00" width="1.5" height="14.70" fill="#3d4f86"/>
<rect x="294.30" y="210.00" width="1.5" height="14.70" fill="#3c5187"/>
<rect x="295.30" y="210.00" width="1.5" height="14.70" fill="#3d5087"/>
<rect x="296.30" y="210.00" width="1.5" height="14.70" fill="#3e4e86"/>
<rect x="297.30" y="210.00" width="1.5" height="14.70" fill="#3d5086"/>
<rect x="298.30" y="210.00" width="1.5" height="14.70" fill="#3a5688"/>
<rect x="299.30" y="210.00" width="1.5" height="14.70" fill="#3a5688"/>
<rect x="300.30" y="210.00" width="1.5" height="14.70" fill="#3c5086"/>
<rect x="301.30" y="210.00" width="1.5" height="14.70" fill="#3c5187"/>
<rect x="302.30" y="210.00" width="1.5" height="14.70" fill="#395b89"/>
<rect x="303.30" y="210.00" width="1.5" height="14.70" fill="#36618a"/>
<rect x="304.30" y="210.00" width="1.5" height="14.70" fill="#3b5387"/>
<rect x="305.30" y="210.00" width="1.5" height="14.70" fill="#3b5588"/>
<rect x="306.30" y="210.00" width="1.5" height="14.70" fill="#3a5588"/>
<rect x="307.30" y="210.00" width="1.5" height="14.70" fill="#3b5388"/>
<rect x="308.30" y="210.00" width="1.5" height="14.70" fill="#3d5086"/>
<rect x="309.30" y="210.00" width="1.5" height="14.70" fill="#3d4f86"/>
<rect x="310.30" y="210.00" width="1.5" height="14.70" fill="#3e4e86"/>
<rect x="311.30" y="210.00" width="1.5" height="14.70" fill="#3b5688"/>
<rect x="312.30" y="210.00" width="1.5" height="14.70" fill="#395989"/>
<rect x="313.30" y="210.00" width="1.5" height="14.70" fill="#3c5388"/>
<rect x="314.30" y="210.00" width="1.5" height="14.70" fill="#395888"/>
<rect x="315.30" y="210.00" width="1.5" height="14.70" fill="#35618a"/>
<rect x="316.30" y="210.00" width="1.5" height="14.70" fill="#35628a"/>
<rect x="317.30" y="210.00" width="1.5" height="14.70" fill="#3a5788"/>
<rect x="318.30" y="210.00" width="1.5" height="14.70" fill="#3c5288"/>
<rect x="319.30" y="210.00" width="1.5" height="14.70" fill="#395889"/>
<rect x="320.30" y="210.00" width="1.5" height="14.70" fill="#3b5488"/>
<rect x="321.30" y="210.00" width="1.5" height="14.70" fill="#404985"/>
<rect x="322.30" y="210.00" width="1.5" height="14.70" fill="#3e4b86"/>
<rect x="323.30" y="210.00" width="1.5" height="14.70" fill="#3d4e86"/>
<rect x="324.30" y="210.00" width="1.5" height="14.70" fill="#3a5688"/>
<rect x="325.30" y="210.00" width="1.5" height="14.70" fill="#385d8a"/>
<rect x="326.30" y="210.00" width="1.5" height="14.70" fill="#375f8a"/>
<rect x="327.30" y="210.00" width="1.5" height="14.70" fill="#3b5588"/>
<rect x="328.30" y="210.00" width="1.5" height="14.70" fill="#395889"/>
<rect x="329.30" y="210.00" width="1.5" height="14.70" fill="#3d4e86"/>
<rect x="330.30" y="210.00" width="1.5" height="14.70" fill="#404985"/>
<rect x="331.30" y="210.00" width="1.5" height="14.70" fill="#385d89"/>
<rect x="332.30" y="210.00" width="1.5" height="14.70" fill="#2c7c89"/>
<rect x="333.30" y="210.00" width="1.5" height="14.70" fill="#3d4f84"/>
<rect x="334.30" y="210.00" width="1.5" height="14.70" fill="#404684"/>
<rect x="335.30" y="210.00" width="1.5" height="14.70" fill="#3b5487"/>
<rect x="336.30" y="210.00" width="1.5" height="14.70" fill="#3a5588"/>
<rect x="337.30" y="210.00" width="1.5" height="14.70" fill="#3b5588"/>
<rect x="338.30" y="210.00" width="1.5" height="14.70" fill="#3a5789"/>
<rect x="339.30" y="210.00" width="1.5" height="14.70" fill="#395988"/>
<rect x="340.30" y="210.00" width="1.5" height="14.70" fill="#316c8a"/>
<rect x="341.30" y="210.00" width="1.5" height="14.70" fill="#3a5788"/>
<rect x="342.30" y="210.00" width="1.5" height="14.70" fill="#3b5388"/>
<rect x="343.30" y="210.00" width="1.5" height="14.70" fill="#36608a"/>
<rect x="344.30" y="210.00" width="1.5" height="14.70" fill="#2f738b"/>
<rect x="345.30" y="210.00" width="1.5" height="14.70" fill="#385d89"/>
<rect x="346.30" y="210.00" width="1.5" height="14.70" fill="#406783"/>
<rect x="347.30" y="210.00" width="1.5" height="14.70" fill="#5cb569"/>
<rect x="348.30" y="210.00" width="1.5" height="14.70" fill="#5dc466"/>
<rect x="349.30" y="210.00" width="1.5" height="14.70" fill="#46bb73"/>
<rect x="350.30" y="210.00" width="1.5" height="14.70" fill="#3db378"/>
<rect x="351.30" y="210.00" width="1.5" height="14.70" fill="#2b9386"/>
<rect x="352.30" y="210.00" width="1.5" height="14.70" fill="#306f8a"/>
<rect x="353.30" y="210.00" width="1.5" height="14.70" fill="#328287"/>
<rect x="354.30" y="210.00" width="1.5" height="14.70" fill="#47a476"/>
<rect x="355.30" y="210.00" width="1.5" height="14.70" fill="#406083"/>
<rect x="356.30" y="210.00" width="1.5" height="14.70" fill="#3b5488"/>
<rect x="357.30" y="210.00" width="1.5" height="14.70" fill="#3e4c85"/>
<rect x="358.30" y="210.00" width="1.5" height="14.70" fill="#385c88"/>
<rect x="359.30" y="210.00" width="1.5" height="14.70" fill="#2c7c8b"/>
<rect x="360.30" y="210.00" width="1.5" height="14.70" fill="#2c7c8b"/>
<rect x="361.30" y="210.00" width="1.5" height="14.70" fill="#385d89"/>
<rect x="362.30" y="210.00" width="1.5" height="14.70" fill="#385b89"/>
<rect x="363.30" y="210.00" width="1.5" height="14.70" fill="#316c8b"/>
<rect x="364.30" y="210.00" width="1.5" height="14.70" fill="#395888"/>
<rect x="365.30" y="210.00" width="1.5" height="14.70" fill="#385b89"/>
<rect x="366.30" y="210.00" width="1.5" height="14.70" fill="#375e89"/>
<rect x="367.30" y="210.00" width="1.5" height="14.70" fill="#36618a"/>
<rect x="368.30" y="210.00" width="1.5" height="14.70" fill="#3a6586"/>
<rect x="369.30" y="210.00" width="1.5" height="14.70" fill="#3aa57b"/>
<rect x="370.30" y="210.00" width="1.5" height="14.70" fill="#37b27a"/>
<rect x="371.30" y="210.00" width="1.5" height="14.70" fill="#2eab7f"/>
<rect x="372.30" y="210.00" width="1.5" height="14.70" fill="#41b775"/>
<rect x="373.30" y="210.00" width="1.5" height="14.70" fill="#51bf6c"/>
<rect x="374.30" y="210.00" width="1.5" height="14.70" fill="#41b776"/>
<rect x="375.30" y="210.00" width="1.5" height="14.70" fill="#38b17a"/>
<rect x="376.30" y="210.00" width="1.5" height="14.70" fill="#53be6c"/>
<rect x="377.30" y="210.00" width="1.5" height="14.70" fill="#3fa879"/>
<rect x="378.30" y="210.00" width="1.5" height="14.70" fill="#386987"/>
<rect x="379.30" y="210.00" width="1.5" height="14.70" fill="#37608a"/>
<rect x="380.30" y="210.00" width="1.5" height="14.70" fill="#356789"/>
<rect x="381.30" y="210.00" width="1.5" height="14.70" fill="#2c8c86"/>
<rect x="382.30" y="210.00" width="1.5" height="14.70" fill="#376288"/>
<rect x="383.30" y="210.00" width="1.5" height="14.70" fill="#385c8a"/>
<rect x="384.30" y="210.00" width="1.5" height="14.70" fill="#385e8a"/>
<rect x="385.30" y="210.00" width="1.5" height="14.70" fill="#376a88"/>
<rect x="386.30" y="210.00" width="1.5" height="14.70" fill="#349581"/>
<rect x="387.30" y="210.00" width="1.5" height="14.70" fill="#376887"/>
<rect x="388.30" y="210.00" width="1.5" height="14.70" fill="#30708b"/>
<rect x="389.30" y="210.00" width="1.5" height="14.70" fill="#30708b"/>
<rect x="390.30" y="210.00" width="1.5" height="14.70" fill="#396a86"/>
<rect x="391.30" y="210.00" width="1.5" height="14.70" fill="#40a978"/>
<rect x="392.30" y="210.00" width="1.5" height="14.70" fill="#4bbb6f"/>
<rect x="393.30" y="210.00" width="1.5" height="14.70" fill="#78cb57"/>
<rect x="394.30" y="210.00" width="1.5" height="14.70" fill="#5bc267"/>
<rect x="395.30" y="210.00" width="1.5" height="14.70" fill="#72ca5a"/>
<rect x="396.30" y="210.00" width="1.5" height="14.70" fill="#52bd6c"/>
<rect x="397.30" y="210.00" width="1.5" height="14.70" fill="#63c463"/>
<rect x="398.30" y="210.00" width="1.5" height="14.70" fill="#3cad79"/>
<rect x="399.30" y="210.00" width="1.5" height="14.70" fill="#51ba6e"/>
<rect x="400.30" y="210.00" width="1.5" height="14.70" fill="#2f9f83"/>
<rect x="401.30" y="210.00" width="1.5" height="14.70" fill="#26928a"/>
<rect x="402.30" y="210.00" width="1.5" height="14.70" fill="#2b7e8b"/>
<rect x="403.30" y="210.00" width="1.5" height="14.70" fill="#3a5787"/>
<rect x="404.30" y="210.00" width="1.5" height="14.70" fill="#424182"/>
<rect x="405.30" y="210.00" width="1.5" height="14.70" fill="#425681"/>
<rect x="406.30" y="210.00" width="1.5" height="14.70" fill="#3fa379"/>
<rect x="407.30" y="210.00" width="1.5" height="14.70" fill="#2d9186"/>
<rect x="408.30" y="210.00" width="1.5" height="14.70" fill="#366189"/>
<rect x="409.30" y="210.00" width="1.5" height="14.70" fill="#3b5588"/>
<rect x="410.30" y="210.00" width="1.5" height="14.70" fill="#385d89"/>
<rect x="411.30" y="210.00" width="1.5" height="14.70" fill="#2b7d8a"/>
<rect x="412.30" y="210.00" width="1.5" height="14.70" fill="#366089"/>
<rect x="413.30" y="210.00" width="1.5" height="14.70" fill="#3a6486"/>
<rect x="414.30" y="210.00" width="1.5" height="14.70" fill="#3b997d"/>
<rect x="415.30" y="210.00" width="1.5" height="14.70" fill="#396786"/>
<rect x="416.30" y="210.00" width="1.5" height="14.70" fill="#3b5588"/>
<rect x="417.30" y="210.00" width="1.5" height="14.70" fill="#3b5487"/>
<rect x="418.30" y="210.00" width="1.5" height="14.70" fill="#3c5187"/>
<rect x="419.30" y="210.00" width="1.5" height="14.70" fill="#3f4985"/>
<rect x="420.30" y="210.00" width="1.5" height="14.70" fill="#3e4c85"/>
<rect x="421.30" y="210.00" width="1.5" height="14.70" fill="#3f4a85"/>
<rect x="422.30" y="210.00" width="1.5" height="14.70" fill="#3b5388"/>
<rect x="423.30" y="210.00" width="1.5" height="14.70" fill="#395889"/>
<rect x="424.30" y="210.00" width="1.5" height="14.70" fill="#3c5287"/>
<rect x="425.30" y="210.00" width="1.5" height="14.70" fill="#425580"/>
<rect x="426.30" y="210.00" width="1.5" height="14.70" fill="#47aa74"/>
<rect x="427.30" y="210.00" width="1.5" height="14.70" fill="#45af75"/>
<rect x="428.30" y="210.00" width="1.5" height="14.70" fill="#396e86"/>
<rect x="429.30" y="210.00" width="1.5" height="14.70" fill="#386187"/>
<rect x="430.30" y="210.00" width="1.5" height="14.70" fill="#2c8e85"/>
<rect x="431.30" y="210.00" width="1.5" height="14.70" fill="#346889"/>
<rect x="432.30" y="210.00" width="1.5" height="14.70" fill="#375c8a"/>
<rect x="433.30" y="210.00" width="1.5" height="14.70" fill="#3b5688"/>
<rect x="434.30" y="210.00" width="1.5" height="14.70" fill="#3c5488"/>
<rect x="435.30" y="210.00" width="1.5" height="14.70" fill="#3d5087"/>
<rect x="436.30" y="210.00" width="1.5" height="14.70" fill="#3c5387"/>
<rect x="437.30" y="210.00" width="1.5" height="14.70" fill="#395a89"/>
<rect x="438.30" y="210.00" width="1.5" height="14.70" fill="#385b8a"/>
<rect x="439.30" y="210.00" width="1.5" height="14.70" fill="#3b5488"/>
<rect x="440.30" y="210.00" width="1.5" height="14.70" fill="#3c5187"/>
<rect x="441.30" y="210.00" width="1.5" height="14.70" fill="#3c5287"/>
<rect x="442.30" y="210.00" width="1.5" height="14.70" fill="#3b5388"/>
<rect x="443.30" y="210.00" width="1.5" height="14.70" fill="#3d4e86"/>
<rect x="444.30" y="210.00" width="1.5" height="14.70" fill="#3b5388"/>
<rect x="445.30" y="210.00" width="1.5" height="14.70" fill="#3b5488"/>
<rect x="446.30" y="210.00" width="1.5" height="14.70" fill="#395888"/>
<rect x="447.30" y="210.00" width="1.5" height="14.70" fill="#2e748b"/>
<rect x="448.30" y="210.00" width="1.5" height="14.70" fill="#2e758c"/>
<rect x="449.30" y="210.00" width="1.5" height="14.70" fill="#36618a"/>
<rect x="450.30" y="210.00" width="1.5" height="14.70" fill="#375d89"/>
<rect x="451.30" y="210.00" width="1.5" height="14.70" fill="#375e8a"/>
<rect x="452.30" y="210.00" width="1.5" height="14.70" fill="#395b89"/>
<rect x="453.30" y="210.00" width="1.5" height="14.70" fill="#3b5488"/>
<rect x="454.30" y="210.00" width="1.5" height="14.70" fill="#3e4d86"/>
<rect x="455.30" y="210.00" width="1.5" height="14.70" fill="#3e4c86"/>
<rect x="456.30" y="210.00" width="1.5" height="14.70" fill="#3c5087"/>
<rect x="457.30" y="210.00" width="1.5" height="14.70" fill="#3d4e86"/>
<rect x="458.30" y="210.00" width="1.5" height="14.70" fill="#404583"/>
<rect x="459.30" y="210.00" width="1.5" height="14.70" fill="#3b5588"/>
<rect x="460.30" y="210.00" width="1.5" height="14.70" fill="#3d5087"/>
<rect x="461.30" y="210.00" width="1.5" height="14.70" fill="#3c5287"/>
<rect x="462.30" y="210.00" width="1.5" height="14.70" fill="#375e89"/>
<rect x="463.30" y="210.00" width="1.5" height="14.70" fill="#3d4e86"/>
<rect x="464.30" y="210.00" width="1.5" height="14.70" fill="#3c5188"/>
<rect x="465.30" y="210.00" width="1.5" height="14.70" fill="#3d4f87"/>
<rect x="466.30" y="210.00" width="1.5" height="14.70" fill="#3d5087"/>
<rect x="467.30" y="210.00" width="1.0" height="14.70" fill="#375e8a"/>
<rect x="267.30" y="224.00" width="1.5" height="14.90" fill="#27888b"/>
<rect x="268.30" y="224.00" width="1.5" height="14.90" fill="#34658a"/>
<rect x="269.30" y="224.00" width="1.5" height="14.90" fill="#3b5387"/>
<rect x="270.30" y="224.00" width="1.5" height="14.90" fill="#395a89"/>
<rect x="271.30" y="224.00" width="1.5" height="14.90" fill="#366589"/>
<rect x="272.30" y="224.00" width="1.5" height="14.90" fill="#2c8488"/>
<rect x="273.30" y="224.00" width="1.5" height="14.90" fill="#395d88"/>
<rect x="274.30" y="224.00" width="1.5" height="14.90" fill="#36648a"/>
<rect x="275.30" y="224.00" width="1.5" height="14.90" fill="#298a8a"/>
<rect x="276.30" y="224.00" width="1.5" height="14.90" fill="#2d798a"/>
<rect x="277.30" y="224.00" width="1.5" height="14.90" fill="#3b5487"/>
<rect x="278.30" y="224.00" width="1.5" height="14.90" fill="#3b5588"/>
<rect x="279.30" y="224.00" width="1.5" height="14.90" fill="#404985"/>
<rect x="280.30" y="224.00" width="1.5" height="14.90" fill="#3f4a85"/>
<rect x="281.30" y="224.00" width="1.5" height="14.90" fill="#3e4d86"/>
<rect x="282.30" y="224.00" width="1.5" height="14.90" fill="#3f4c86"/>
<rect x="283.30" y="224.00" width="1.5" height="14.90" fill="#3b5488"/>
<rect x="284.30" y="224.00" width="1.5" height="14.90" fill="#385d8a"/>
<rect x="285.30" y="224.00" width="1.5" height="14.90" fill="#36618a"/>
<rect x="286.30" y="224.00" width="1.5" height="14.90" fill="#3b5488"/>
<rect x="287.30" y="224.00" width="1.5" height="14.90" fill="#404584"/>
<rect x="288.30" y="224.00" width="1.5" height="14.90" fill="#3e4c84"/>
<rect x="289.30" y="224.00" width="1.5" height="14.90" fill="#2d798a"/>
<rect x="290.30" y="224.00" width="1.5" height="14.90" fill="#2c7b8b"/>
<rect x="291.30" y="224.00" width="1.5" height="14.90" fill="#366388"/>
<rect x="292.30" y="224.00" width="1.5" height="14.90" fill="#2b8588"/>
<rect x="293.30" y="224.00" width="1.5" height="14.90" fill="#346789"/>
<rect x="294.30" y="224.00" width="1.5" height="14.90" fill="#3b5785"/>
<rect x="295.30" y="224.00" width="1.5" height="14.90" fill="#2a8c87"/>
<rect x="296.30" y="224.00" width="1.5" height="14.90" fill="#25918a"/>
<rect x="297.30" y="224.00" width="1.5" height="14.90" fill="#28888a"/>
<rect x="298.30" y="224.00" width="1.5" height="14.90" fill="#35648a"/>
<rect x="299.30" y="224.00" width="1.5" height="14.90" fill="#356689"/>
<rect x="300.30" y="224.00" width="1.5" height="14.90" fill="#299187"/>
<rect x="301.30" y="224.00" width="1.5" height="14.90" fill="#2a8f87"/>
<rect x="302.30" y="224.00" width="1.5" height="14.90" fill="#385d87"/>
<rect x="303.30" y="224.00" width="1.5" height="14.90" fill="#36618a"/>
<rect x="304.30" y="224.00" width="1.5" height="14.90" fill="#375e8a"/>
<rect x="305.30" y="224.00" width="1.5" height="14.90" fill="#36618a"/>
<rect x="306.30" y="224.00" width="1.5" height="14.90" fill="#3b5487"/>
<rect x="307.30" y="224.00" width="1.5" height="14.90" fill="#356689"/>
<rect x="308.30" y="224.00" width="1.5" height="14.90" fill="#2a8589"/>
<rect x="309.30" y="224.00" width="1.5" height="14.90" fill="#34678a"/>
<rect x="310.30" y="224.00" width="1.5" height="14.90" fill="#366189"/>
<rect x="311.30" y="224.00" width="1.5" height="14.90" fill="#28878a"/>
<rect x="312.30" y="224.00" width="1.5" height="14.90" fill="#28878a"/>
<rect x="313.30" y="224.00" width="1.5" height="14.90" fill="#375d89"/>
<rect x="314.30" y="224.00" width="1.5" height="14.90" fill="#3c5388"/>
<rect x="315.30" y="224.00" width="1.5" height="14.90" fill="#3d4f87"/>
<rect x="316.30" y="224.00" width="1.5" height="14.90" fill="#395889"/>
<rect x="317.30" y="224.00" width="1.5" height="14.90" fill="#375d8a"/>
<rect x="318.30" y="224.00" width="1.5" height="14.90" fill="#3a5688"/>
<rect x="319.30" y="224.00" width="1.5" height="14.90" fill="#385c89"/>
<rect x="320.30" y="224.00" width="1.5" height="14.90" fill="#3a5788"/>
<rect x="321.30" y="224.00" width="1.5" height="14.90" fill="#395a89"/>
<rect x="322.30" y="224.00" width="1.5" height="14.90" fill="#3e4c86"/>
<rect x="323.30" y="224.00" width="1.5" height="14.90" fill="#3f4a85"/>
<rect x="324.30" y="224.00" width="1.5" height="14.90" fill="#3c5087"/>
<rect x="325.30" y="224.00" width="1.5" height="14.90" fill="#3c5187"/>
<rect x="326.30" y="224.00" width="1.5" height="14.90" fill="#3e4c86"/>
<rect x="327.30" y="224.00" width="1.5" height="14.90" fill="#3d5087"/>
<rect x="328.30" y="224.00" width="1.5" height="14.90" fill="#3e4c86"/>
<rect x="329.30" y="224.00" width="1.5" height="14.90" fill="#366588"/>
<rect x="330.30" y="224.00" width="1.5" height="14.90" fill="#2d8d85"/>
<rect x="331.30" y="224.00" width="1.5" height="14.90" fill="#3a5b86"/>
<rect x="332.30" y="224.00" width="1.5" height="14.90" fill="#3c5287"/>
<rect x="333.30" y="224.00" width="1.5" height="14.90" fill="#395889"/>
<rect x="334.30" y="224.00" width="1.5" height="14.90" fill="#395889"/>
<rect x="335.30" y="224.00" width="1.5" height="14.90" fill="#3c5187"/>
<rect x="336.30" y="224.00" width="1.5" height="14.90" fill="#3d4f86"/>
<rect x="337.30" y="224.00" width="1.5" height="14.90" fill="#3c5287"/>
<rect x="338.30" y="224.00" width="1.5" height="14.90" fill="#3b5488"/>
<rect x="339.30" y="224.00" width="1.5" height="14.90" fill="#3b5488"/>
<rect x="340.30" y="224.00" width="1.5" height="14.90" fill="#35628a"/>
<rect x="341.30" y="224.00" width="1.5" height="14.90" fill="#306e8c"/>
<rect x="342.30" y="224.00" width="1.5" height="14.90" fill="#306e8c"/>
<rect x="343.30" y="224.00" width="1.5" height="14.90" fill="#35628a"/>
<rect x="344.30" y="224.00" width="1.5" height="14.90" fill="#3d5087"/>
<rect x="345.30" y="224.00" width="1.5" height="14.90" fill="#3e4d86"/>
<rect x="346.30" y="224.00" width="1.5" height="14.90" fill="#3f5e83"/>
<rect x="347.30" y="224.00" width="1.5" height="14.90" fill="#46ac75"/>
<rect x="348.30" y="224.00" width="1.5" height="14.90" fill="#46ad75"/>
<rect x="349.30" y="224.00" width="1.5" height="14.90" fill="#3d6384"/>
<rect x="350.30" y="224.00" width="1.5" height="14.90" fill="#3b5487"/>
<rect x="351.30" y="224.00" width="1.5" height="14.90" fill="#3a5688"/>
<rect x="352.30" y="224.00" width="1.5" height="14.90" fill="#395c87"/>
<rect x="353.30" y="224.00" width="1.5" height="14.90" fill="#298f87"/>
<rect x="354.30" y="224.00" width="1.5" height="14.90" fill="#25938a"/>
<rect x="355.30" y="224.00" width="1.5" height="14.90" fill="#259788"/>
<rect x="356.30" y="224.00" width="1.5" height="14.90" fill="#26a384"/>
<rect x="357.30" y="224.00" width="1.5" height="14.90" fill="#2a9984"/>
<rect x="358.30" y="224.00" width="1.5" height="14.90" fill="#356987"/>
<rect x="359.30" y="224.00" width="1.5" height="14.90" fill="#2b8788"/>
<rect x="360.30" y="224.00" width="1.5" height="14.90" fill="#33698a"/>
<rect x="361.30" y="224.00" width="1.5" height="14.90" fill="#385c8a"/>
<rect x="362.30" y="224.00" width="1.5" height="14.90" fill="#3c5187"/>
<rect x="363.30" y="224.00" width="1.5" height="14.90" fill="#375f88"/>
<rect x="364.30" y="224.00" width="1.5" height="14.90" fill="#29878a"/>
<rect x="365.30" y="224.00" width="1.5" height="14.90" fill="#29858b"/>
<rect x="366.30" y="224.00" width="1.5" height="14.90" fill="#2c7d8b"/>
<rect x="367.30" y="224.00" width="1.5" height="14.90" fill="#376189"/>
<rect x="368.30" y="224.00" width="1.5" height="14.90" fill="#375e89"/>
<rect x="369.30" y="224.00" width="1.5" height="14.90" fill="#2a828b"/>
<rect x="370.30" y="224.00" width="1.5" height="14.90" fill="#29828b"/>
<rect x="371.30" y="224.00" width="1.5" height="14.90" fill="#366189"/>
<rect x="372.30" y="224.00" width="1.5" height="14.90" fill="#386188"/>
<rect x="373.30" y="224.00" width="1.5" height="14.90" fill="#2a9286"/>
<rect x="374.30" y="224.00" width="1.5" height="14.90" fill="#288b8a"/>
<rect x="375.30" y="224.00" width="1.5" height="14.90" fill="#28858b"/>
<rect x="376.30" y="224.00" width="1.5" height="14.90" fill="#28888b"/>
<rect x="377.30" y="224.00" width="1.5" height="14.90" fill="#298d88"/>
<rect x="378.30" y="224.00" width="1.5" height="14.90" fill="#336b89"/>
<rect x="379.30" y="224.00" width="1.5" height="14.90" fill="#2b818a"/>
<rect x="380.30" y="224.00" width="1.5" height="14.90" fill="#327089"/>
<rect x="381.30" y="224.00" width="1.5" height="14.90" fill="#299487"/>
<rect x="382.30" y="224.00" width="1.5" height="14.90" fill="#2a8489"/>
<rect x="383.30" y="224.00" width="1.5" height="14.90" fill="#3a5887"/>
<rect x="384.30" y="224.00" width="1.5" height="14.90" fill="#306f8b"/>
<rect x="385.30" y="224.00" width="1.5" height="14.90" fill="#2f728b"/>
<rect x="386.30" y="224.00" width="1.5" height="14.90" fill="#356889"/>
<rect x="387.30" y="224.00" width="1.5" height="14.90" fill="#299586"/>
<rect x="388.30" y="224.00" width="1.5" height="14.90" fill="#269d86"/>
<rect x="389.30" y="224.00" width="1.5" height="14.90" fill="#299186"/>
<rect x="390.30" y="224.00" width="1.5" height="14.90" fill="#385f88"/>
<rect x="391.30" y="224.00" width="1.5" height="14.90" fill="#395f87"/>
<rect x="392.30" y="224.00" width="1.5" height="14.90" fill="#2c8a86"/>
<rect x="393.30" y="224.00" width="1.5" height="14.90" fill="#337188"/>
<rect x="394.30" y="224.00" width="1.5" height="14.90" fill="#2e9084"/>
<rect x="395.30" y="224.00" width="1.5" height="14.90" fill="#377085"/>
<rect x="396.30" y="224.00" width="1.5" height="14.90" fill="#379780"/>
<rect x="397.30" y="224.00" width="1.5" height="14.90" fill="#376b88"/>
<rect x="398.30" y="224.00" width="1.5" height="14.90" fill="#366288"/>
<rect x="399.30" y="224.00" width="1.5" height="14.90" fill="#2b8788"/>
<rect x="400.30" y="224.00" width="1.5" height="14.90" fill="#366388"/>
<rect x="401.30" y="224.00" width="1.5" height="14.90" fill="#3d4f87"/>
<rect x="402.30" y="224.00" width="1.5" height="14.90" fill="#3a5688"/>
<rect x="403.30" y="224.00" width="1.5" height="14.90" fill="#375f8a"/>
<rect x="404.30" y="224.00" width="1.5" height="14.90" fill="#395a8a"/>
<rect x="405.30" y="224.00" width="1.5" height="14.90" fill="#3e4e86"/>
<rect x="406.30" y="224.00" width="1.5" height="14.90" fill="#3b5588"/>
<rect x="407.30" y="224.00" width="1.5" height="14.90" fill="#385b89"/>
<rect x="408.30" y="224.00" width="1.5" height="14.90" fill="#326b8b"/>
<rect x="409.30" y="224.00" width="1.5" height="14.90" fill="#395888"/>
<rect x="410.30" y="224.00" width="1.5" height="14.90" fill="#3c5287"/>
<rect x="411.30" y="224.00" width="1.5" height="14.90" fill="#3e4b85"/>
<rect x="412.30" y="224.00" width="1.5" height="14.90" fill="#404885"/>
<rect x="413.30" y="224.00" width="1.5" height="14.90" fill="#3e4d86"/>
<rect x="414.30" y="224.00" width="1.5" height="14.90" fill="#3f4a85"/>
<rect x="415.30" y="224.00" width="1.5" height="14.90" fill="#385b88"/>
<rect x="416.30" y="224.00" width="1.5" height="14.90" fill="#29848a"/>
<rect x="417.30" y="224.00" width="1.5" height="14.90" fill="#28858a"/>
<rect x="418.30" y="224.00" width="1.5" height="14.90" fill="#35638a"/>
<rect x="419.30" y="224.00" width="1.5" height="14.90" fill="#3a5789"/>
<rect x="420.30" y="224.00" width="1.5" height="14.90" fill="#385e88"/>
<rect x="421.30" y="224.00" width="1.5" height="14.90" fill="#2c8389"/>
<rect x="422.30" y="224.00" width="1.5" height="14.90" fill="#3e7083"/>
<rect x="423.30" y="224.00" width="1.5" height="14.90" fill="#56ac6e"/>
<rect x="424.30" y="224.00" width="1.5" height="14.90" fill="#338b85"/>
<rect x="425.30" y="224.00" width="1.5" height="14.90" fill="#2c7b8c"/>
<rect x="426.30" y="224.00" width="1.5" height="14.90" fill="#2a9188"/>
<rect x="427.30" y="224.00" width="1.5" height="14.90" fill="#3fb377"/>
<rect x="428.30" y="224.00" width="1.5" height="14.90" fill="#46b973"/>
<rect x="429.30" y="224.00" width="1.5" height="14.90" fill="#2ca183"/>
<rect x="430.30" y="224.00" width="1.5" height="14.90" fill="#299887"/>
<rect x="431.30" y="224.00" width="1.5" height="14.90" fill="#3db278"/>
<rect x="432.30" y="224.00" width="1.5" height="14.90" fill="#3db578"/>
<rect x="433.30" y="224.00" width="1.5" height="14.90" fill="#2da881"/>
<rect x="434.30" y="224.00" width="1.5" height="14.90" fill="#35af7c"/>
<rect x="435.30" y="224.00" width="1.5" height="14.90" fill="#3ab07a"/>
<rect x="436.30" y="224.00" width="1.5" height="14.90" fill="#2a9b85"/>
<rect x="437.30" y="224.00" width="1.5" height="14.90" fill="#36ac7c"/>
<rect x="438.30" y="224.00" width="1.5" height="14.90" fill="#5fc166"/>
<rect x="439.30" y="224.00" width="1.5" height="14.90" fill="#359e7f"/>
<rect x="440.30" y="224.00" width="1.5" height="14.90" fill="#356689"/>
<rect x="441.30" y="224.00" width="1.5" height="14.90" fill="#385a89"/>
<rect x="442.30" y="224.00" width="1.5" height="14.90" fill="#3b5387"/>
<rect x="443.30" y="224.00" width="1.5" height="14.90" fill="#3f4b86"/>
<rect x="444.30" y="224.00" width="1.5" height="14.90" fill="#3e4c86"/>
<rect x="445.30" y="224.00" width="1.5" height="14.90" fill="#3d5087"/>
<rect x="446.30" y="224.00" width="1.5" height="14.90" fill="#395889"/>
<rect x="447.30" y="224.00" width="1.5" height="14.90" fill="#3f4985"/>
<rect x="448.30" y="224.00" width="1.5" height="14.90" fill="#404784"/>
<rect x="449.30" y="224.00" width="1.5" height="14.90" fill="#3d5087"/>
<rect x="450.30" y="224.00" width="1.5" height="14.90" fill="#3d5087"/>
<rect x="451.30" y="224.00" width="1.5" height="14.90" fill="#404685"/>
<rect x="452.30" y="224.00" width="1.5" height="14.90" fill="#3f4a85"/>
<rect x="453.30" y="224.00" width="1.5" height="14.90" fill="#3b5688"/>
<rect x="454.30" y="224.00" width="1.5" height="14.90" fill="#375d8a"/>
<rect x="455.30" y="224.00" width="1.5" height="14.90" fill="#375d8a"/>
<rect x="456.30" y="224.00" width="1.5" height="14.90" fill="#395889"/>
<rect x="457.30" y="224.00" width="1.5" height="14.90" fill="#3a5688"/>
<rect x="458.30" y="224.00" width="1.5" height="14.90" fill="#3e6184"/>
<rect x="459.30" y="224.00" width="1.5" height="14.90" fill="#449e78"/>
<rect x="460.30" y="224.00" width="1.5" height="14.90" fill="#3a6b86"/>
<rect x="461.30" y="224.00" width="1.5" height="14.90" fill="#385d89"/>
<rect x="462.30" y="224.00" width="1.5" height="14.90" fill="#395a89"/>
<rect x="463.30" y="224.00" width="1.5" height="14.90" fill="#3e4e86"/>
<rect x="464.30" y="224.00" width="1.5" height="14.90" fill="#3b5488"/>
<rect x="465.30" y="224.00" width="1.5" height="14.90" fill="#3b5388"/>
<rect x="466.30" y="224.00" width="1.5" height="14.90" fill="#3b5488"/>
<rect x="467.30" y="224.00" width="1.0" height="14.90" fill="#3e4d86"/>
<rect x="267.30" y="238.20" width="1.5" height="14.70" fill="#3f4a83"/>
<rect x="268.30" y="238.20" width="1.5" height="14.70" fill="#306f8a"/>
<rect x="269.30" y="238.20" width="1.5" height="14.70" fill="#376089"/>
<rect x="270.30" y="238.20" width="1.5" height="14.70" fill="#404884"/>
<rect x="271.30" y="238.20" width="1.5" height="14.70" fill="#424283"/>
<rect x="272.30" y="238.20" width="1.5" height="14.70" fill="#3f4d81"/>
<rect x="273.30" y="238.20" width="1.5" height="14.70" fill="#2b9683"/>
<rect x="274.30" y="238.20" width="1.5" height="14.70" fill="#2b9482"/>
<rect x="275.30" y="238.20" width="1.5" height="14.70" fill="#413a75"/>
<rect x="276.30" y="238.20" width="1.5" height="14.70" fill="#441864"/>
<rect x="277.30" y="238.20" width="1.5" height="14.70" fill="#443178"/>
<rect x="278.30" y="238.20" width="1.5" height="14.70" fill="#44367c"/>
<rect x="279.30" y="238.20" width="1.5" height="14.70" fill="#452d75"/>
<rect x="280.30" y="238.20" width="1.5" height="14.70" fill="#451b67"/>
<rect x="281.30" y="238.20" width="1.5" height="14.70" fill="#46226e"/>
<rect x="282.30" y="238.20" width="1.5" height="14.70" fill="#41276a"/>
<rect x="283.30" y="238.20" width="1.5" height="14.70" fill="#2e7185"/>
<rect x="284.30" y="238.20" width="1.5" height="14.70" fill="#2f6f87"/>
<rect x="285.30" y="238.20" width="1.5" height="14.70" fill="#3e3b76"/>
<rect x="286.30" y="238.20" width="1.5" height="14.70" fill="#326586"/>
<rect x="287.30" y="238.20" width="1.5" height="14.70" fill="#3e4c85"/>
<rect x="288.30" y="238.20" width="1.5" height="14.70" fill="#424283"/>
<rect x="289.30" y="238.20" width="1.5" height="14.70" fill="#404a7e"/>
<rect x="290.30" y="238.20" width="1.5" height="14.70" fill="#33887f"/>
<rect x="291.30" y="238.20" width="1.5" height="14.70" fill="#40467b"/>
<rect x="292.30" y="238.20" width="1.5" height="14.70" fill="#44226c"/>
<rect x="293.30" y="238.20" width="1.5" height="14.70" fill="#413c7c"/>
<rect x="294.30" y="238.20" width="1.5" height="14.70" fill="#365d86"/>
<rect x="295.30" y="238.20" width="1.5" height="14.70" fill="#42377a"/>
<rect x="296.30" y="238.20" width="1.5" height="14.70" fill="#44377d"/>
<rect x="297.30" y="238.20" width="1.5" height="14.70" fill="#3f4580"/>
<rect x="298.30" y="238.20" width="1.5" height="14.70" fill="#2c7a89"/>
<rect x="299.30" y="238.20" width="1.5" height="14.70" fill="#28898b"/>
<rect x="300.30" y="238.20" width="1.5" height="14.70" fill="#279788"/>
<rect x="301.30" y="238.20" width="1.5" height="14.70" fill="#269a87"/>
<rect x="302.30" y="238.20" width="1.5" height="14.70" fill="#299188"/>
<rect x="303.30" y="238.20" width="1.5" height="14.70" fill="#366187"/>
<rect x="304.30" y="238.20" width="1.5" height="14.70" fill="#423e7e"/>
<rect x="305.30" y="238.20" width="1.5" height="14.70" fill="#445c7f"/>
<rect x="306.30" y="238.20" width="1.5" height="14.70" fill="#5db468"/>
<rect x="307.30" y="238.20" width="1.5" height="14.70" fill="#62c663"/>
<rect x="308.30" y="238.20" width="1.5" height="14.70" fill="#5db268"/>
<rect x="309.30" y="238.20" width="1.5" height="14.70" fill="#47557d"/>
<rect x="310.30" y="238.20" width="1.5" height="14.70" fill="#404884"/>
<rect x="311.30" y="238.20" width="1.5" height="14.70" fill="#3c5286"/>
<rect x="312.30" y="238.20" width="1.5" height="14.70" fill="#2e7689"/>
<rect x="313.30" y="238.20" width="1.5" height="14.70" fill="#3b5587"/>
<rect x="314.30" y="238.20" width="1.5" height="14.70" fill="#404683"/>
<rect x="315.30" y="238.20" width="1.5" height="14.70" fill="#40427c"/>
<rect x="316.30" y="238.20" width="1.5" height="14.70" fill="#2a8487"/>
<rect x="317.30" y="238.20" width="1.5" height="14.70" fill="#2c7d88"/>
<rect x="318.30" y="238.20" width="1.5" height="14.70" fill="#3c4b7e"/>
<rect x="319.30" y="238.20" width="1.5" height="14.70" fill="#2c7b88"/>
<rect x="320.30" y="238.20" width="1.5" height="14.70" fill="#29848b"/>
<rect x="321.30" y="238.20" width="1.5" height="14.70" fill="#2e7588"/>
<rect x="322.30" y="238.20" width="1.5" height="14.70" fill="#423677"/>
<rect x="323.30" y="238.20" width="1.5" height="14.70" fill="#462974"/>
<rect x="324.30" y="238.20" width="1.5" height="14.70" fill="#413978"/>
<rect x="325.30" y="238.20" width="1.5" height="14.70" fill="#2f6d81"/>
<rect x="326.30" y="238.20" width="1.5" height="14.70" fill="#402969"/>
<rect x="327.30" y="238.20" width="1.5" height="14.70" fill="#403e78"/>
<rect x="328.30" y="238.20" width="1.5" height="14.70" fill="#2f797e"/>
<rect x="329.30" y="238.20" width="1.5" height="14.70" fill="#402c69"/>
<rect x="330.30" y="238.20" width="1.5" height="14.70" fill="#43357a"/>
<rect x="331.30" y="238.20" width="1.5" height="14.70" fill="#423e80"/>
<rect x="332.30" y="238.20" width="1.5" height="14.70" fill="#462974"/>
<rect x="333.30" y="238.20" width="1.5" height="14.70" fill="#462b75"/>
<rect x="334.30" y="238.20" width="1.5" height="14.70" fill="#452973"/>
<rect x="335.30" y="238.20" width="1.5" height="14.70" fill="#451d6a"/>
<rect x="336.30" y="238.20" width="1.5" height="14.70" fill="#413779"/>
<rect x="337.30" y="238.20" width="1.5" height="14.70" fill="#326989"/>
<rect x="338.30" y="238.20" width="1.5" height="14.70" fill="#33678a"/>
<rect x="339.30" y="238.20" width="1.5" height="14.70" fill="#3d4c84"/>
<rect x="340.30" y="238.20" width="1.5" height="14.70" fill="#413b7c"/>
<rect x="341.30" y="238.20" width="1.5" height="14.70" fill="#336788"/>
<rect x="342.30" y="238.20" width="1.5" height="14.70" fill="#30708c"/>
<rect x="343.30" y="238.20" width="1.5" height="14.70" fill="#366088"/>
<rect x="344.30" y="238.20" width="1.5" height="14.70" fill="#423d7e"/>
<rect x="345.30" y="238.20" width="1.5" height="14.70" fill="#433f81"/>
<rect x="346.30" y="238.20" width="1.5" height="14.70" fill="#433d80"/>
<rect x="347.30" y="238.20" width="1.5" height="14.70" fill="#413b79"/>
<rect x="348.30" y="238.20" width="1.5" height="14.70" fill="#2f7184"/>
<rect x="349.30" y="238.20" width="1.5" height="14.70" fill="#413c79"/>
<rect x="350.30" y="238.20" width="1.5" height="14.70" fill="#453178"/>
<rect x="351.30" y="238.20" width="1.5" height="14.70" fill="#3d4d84"/>
<rect x="352.30" y="238.20" width="1.5" height="14.70" fill="#2f7588"/>
<rect x="353.30" y="238.20" width="1.5" height="14.70" fill="#3e5d81"/>
<rect x="354.30" y="238.20" width="1.5" height="14.70" fill="#45a775"/>
<rect x="355.30" y="238.20" width="1.5" height="14.70" fill="#5dc466"/>
<rect x="356.30" y="238.20" width="1.5" height="14.70" fill="#6fca5d"/>
<rect x="357.30" y="238.20" width="1.5" height="14.70" fill="#85d04f"/>
<rect x="358.30" y="238.20" width="1.5" height="14.70" fill="#51be6c"/>
<rect x="359.30" y="238.20" width="1.5" height="14.70" fill="#3cb278"/>
<rect x="360.30" y="238.20" width="1.5" height="14.70" fill="#66bb63"/>
<rect x="361.30" y="238.20" width="1.5" height="14.70" fill="#3b8083"/>
<rect x="362.30" y="238.20" width="1.5" height="14.70" fill="#368d83"/>
<rect x="363.30" y="238.20" width="1.5" height="14.70" fill="#62b766"/>
<rect x="364.30" y="238.20" width="1.5" height="14.70" fill="#378884"/>
<rect x="365.30" y="238.20" width="1.5" height="14.70" fill="#2a818b"/>
<rect x="366.30" y="238.20" width="1.5" height="14.70" fill="#2b7f8b"/>
<rect x="367.30" y="238.20" width="1.5" height="14.70" fill="#306f8b"/>
<rect x="368.30" y="238.20" width="1.5" height="14.70" fill="#2f7b89"/>
<rect x="369.30" y="238.20" width="1.5" height="14.70" fill="#32a57f"/>
<rect x="370.30" y="238.20" width="1.5" height="14.70" fill="#32a57f"/>
<rect x="371.30" y="238.20" width="1.5" height="14.70" fill="#317989"/>
<rect x="372.30" y="238.20" width="1.5" height="14.70" fill="#3a6f86"/>
<rect x="373.30" y="238.20" width="1.5" height="14.70" fill="#49a575"/>
<rect x="374.30" y="238.20" width="1.5" height="14.70" fill="#367887"/>
<rect x="375.30" y="238.20" width="1.5" height="14.70" fill="#34658b"/>
<rect x="376.30" y="238.20" width="1.5" height="14.70" fill="#347788"/>
<rect x="377.30" y="238.20" width="1.5" height="14.70" fill="#3ba47c"/>
<rect x="378.30" y="238.20" width="1.5" height="14.70" fill="#2f8588"/>
<rect x="379.30" y="238.20" width="1.5" height="14.70" fill="#306f8b"/>
<rect x="380.30" y="238.20" width="1.5" height="14.70" fill="#318288"/>
<rect x="381.30" y="238.20" width="1.5" height="14.70" fill="#3ea57b"/>
<rect x="382.30" y="238.20" width="1.5" height="14.70" fill="#337b88"/>
<rect x="383.30" y="238.20" width="1.5" height="14.70" fill="#358785"/>
<rect x="384.30" y="238.20" width="1.5" height="14.70" fill="#5fbd66"/>
<rect x="385.30" y="238.20" width="1.5" height="14.70" fill="#5fbe66"/>
<rect x="386.30" y="238.20" width="1.5" height="14.70" fill="#348b85"/>
<rect x="387.30" y="238.20" width="1.5" height="14.70" fill="#2d778c"/>
<rect x="388.30" y="238.20" width="1.5" height="14.70" fill="#29828b"/>
<rect x="389.30" y="238.20" width="1.5" height="14.70" fill="#28858b"/>
<rect x="390.30" y="238.20" width="1.5" height="14.70" fill="#369282"/>
<rect x="391.30" y="238.20" width="1.5" height="14.70" fill="#7cc756"/>
<rect x="392.30" y="238.20" width="1.5" height="14.70" fill="#89c74e"/>
<rect x="393.30" y="238.20" width="1.5" height="14.70" fill="#418f7d"/>
<rect x="394.30" y="238.20" width="1.5" height="14.70" fill="#3eae79"/>
<rect x="395.30" y="238.20" width="1.5" height="14.70" fill="#2fa481"/>
<rect x="396.30" y="238.20" width="1.5" height="14.70" fill="#2d7e8a"/>
<rect x="397.30" y="238.20" width="1.5" height="14.70" fill="#2d798b"/>
<rect x="398.30" y="238.20" width="1.5" height="14.70" fill="#298989"/>
<rect x="399.30" y="238.20" width="1.5" height="14.70" fill="#33688a"/>
<rect x="400.30" y="238.20" width="1.5" height="14.70" fill="#33688b"/>
<rect x="401.30" y="238.20" width="1.5" height="14.70" fill="#34668b"/>
<rect x="402.30" y="238.20" width="1.5" height="14.70" fill="#35638a"/>
<rect x="403.30" y="238.20" width="1.5" height="14.70" fill="#385c8a"/>
<rect x="404.30" y="238.20" width="1.5" height="14.70" fill="#3b5387"/>
<rect x="405.30" y="238.20" width="1.5" height="14.70" fill="#3f4a85"/>
<rect x="406.30" y="238.20" width="1.5" height="14.70" fill="#433a7e"/>
<rect x="407.30" y="238.20" width="1.5" height="14.70" fill="#452972"/>
<rect x="408.30" y="238.20" width="1.5" height="14.70" fill="#3f4682"/>
<rect x="409.30" y="238.20" width="1.5" height="14.70" fill="#36618a"/>
<rect x="410.30" y="238.20" width="1.5" height="14.70" fill="#375e88"/>
<rect x="411.30" y="238.20" width="1.5" height="14.70" fill="#42387b"/>
<rect x="412.30" y="238.20" width="1.5" height="14.70" fill="#413d79"/>
<rect x="413.30" y="238.20" width="1.5" height="14.70" fill="#2c8286"/>
<rect x="414.30" y="238.20" width="1.5" height="14.70" fill="#336988"/>
<rect x="415.30" y="238.20" width="1.5" height="14.70" fill="#3f4782"/>
<rect x="416.30" y="238.20" width="1.5" height="14.70" fill="#395888"/>
<rect x="417.30" y="238.20" width="1.5" height="14.70" fill="#385c89"/>
<rect x="418.30" y="238.20" width="1.5" height="14.70" fill="#376288"/>
<rect x="419.30" y="238.20" width="1.5" height="14.70" fill="#2c9285"/>
<rect x="420.30" y="238.20" width="1.5" height="14.70" fill="#378384"/>
<rect x="421.30" y="238.20" width="1.5" height="14.70" fill="#5bb969"/>
<rect x="422.30" y="238.20" width="1.5" height="14.70" fill="#62c663"/>
<rect x="423.30" y="238.20" width="1.5" height="14.70" fill="#5abc69"/>
<rect x="424.30" y="238.20" width="1.5" height="14.70" fill="#328d85"/>
<rect x="425.30" y="238.20" width="1.5" height="14.70" fill="#2a7f8b"/>
<rect x="426.30" y="238.20" width="1.5" height="14.70" fill="#2d778b"/>
<rect x="427.30" y="238.20" width="1.5" height="14.70" fill="#2a818b"/>
<rect x="428.30" y="238.20" width="1.5" height="14.70" fill="#30718a"/>
<rect x="429.30" y="238.20" width="1.5" height="14.70" fill="#339083"/>
<rect x="430.30" y="238.20" width="1.5" height="14.70" fill="#65c163"/>
<rect x="431.30" y="238.20" width="1.5" height="14.70" fill="#65c762"/>
<rect x="432.30" y="238.20" width="1.5" height="14.70" fill="#59be69"/>
<rect x="433.30" y="238.20" width="1.5" height="14.70" fill="#3fa27a"/>
<rect x="434.30" y="238.20" width="1.5" height="14.70" fill="#75bd5b"/>
<rect x="435.30" y="238.20" width="1.5" height="14.70" fill="#3a8c81"/>
<rect x="436.30" y="238.20" width="1.5" height="14.70" fill="#2c9287"/>
<rect x="437.30" y="238.20" width="1.5" height="14.70" fill="#43b675"/>
<rect x="438.30" y="238.20" width="1.5" height="14.70" fill="#48bd72"/>
<rect x="439.30" y="238.20" width="1.5" height="14.70" fill="#45af75"/>
<rect x="440.30" y="238.20" width="1.5" height="14.70" fill="#396d87"/>
<rect x="441.30" y="238.20" width="1.5" height="14.70" fill="#375f8a"/>
<rect x="442.30" y="238.20" width="1.5" height="14.70" fill="#37608a"/>
<rect x="443.30" y="238.20" width="1.5" height="14.70" fill="#366489"/>
<rect x="444.30" y="238.20" width="1.5" height="14.70" fill="#299387"/>
<rect x="445.30" y="238.20" width="1.5" height="14.70" fill="#2a8f86"/>
<rect x="446.30" y="238.20" width="1.5" height="14.70" fill="#3a5984"/>
<rect x="447.30" y="238.20" width="1.5" height="14.70" fill="#2c7b8a"/>
<rect x="448.30" y="238.20" width="1.5" height="14.70" fill="#2b7b8a"/>
<rect x="449.30" y="238.20" width="1.5" height="14.70" fill="#3e4c84"/>
<rect x="450.30" y="238.20" width="1.5" height="14.70" fill="#424283"/>
<rect x="451.30" y="238.20" width="1.5" height="14.70" fill="#433e80"/>
<rect x="452.30" y="238.20" width="1.5" height="14.70" fill="#413b7b"/>
<rect x="453.30" y="238.20" width="1.5" height="14.70" fill="#2f7088"/>
<rect x="454.30" y="238.20" width="1.5" height="14.70" fill="#2f708c"/>
<rect x="455.30" y="238.20" width="1.5" height="14.70" fill="#335f85"/>
<rect x="456.30" y="238.20" width="1.5" height="14.70" fill="#411d64"/>
<rect x="457.30" y="238.20" width="1.5" height="14.70" fill="#44105e"/>
<rect x="458.30" y="238.20" width="1.5" height="14.70" fill="#41246a"/>
<rect x="459.30" y="238.20" width="1.5" height="14.70" fill="#35567f"/>
<rect x="460.30" y="238.20" width="1.5" height="14.70" fill="#412167"/>
<rect x="461.30" y="238.20" width="1.5" height="14.70" fill="#451563"/>
<rect x="462.30" y="238.20" width="1.5" height="14.70" fill="#462470"/>
<rect x="463.30" y="238.20" width="1.5" height="14.70" fill="#453178"/>
<rect x="464.30" y="238.20" width="1.5" height="14.70" fill="#461f6b"/>
<rect x="465.30" y="238.20" width="1.5" height="14.70" fill="#42276c"/>
<rect x="466.30" y="238.20" width="1.5" height="14.70" fill="#355c82"/>
<rect x="467.30" y="238.20" width="1.0" height="14.70" fill="#433075"/>
<rect x="267.30" y="252.20" width="1.5" height="14.60" fill="#3f427f"/>
<rect x="268.30" y="252.20" width="1.5" height="14.60" fill="#43135f"/>
<rect x="269.30" y="252.20" width="1.5" height="14.60" fill="#3f1d60"/>
<rect x="270.30" y="252.20" width="1.5" height="14.60" fill="#2a7983"/>
<rect x="271.30" y="252.20" width="1.5" height="14.60" fill="#28858a"/>
<rect x="272.30" y="252.20" width="1.5" height="14.60" fill="#3b7484"/>
<rect x="273.30" y="252.20" width="1.5" height="14.60" fill="#5cb669"/>
<rect x="274.30" y="252.20" width="1.5" height="14.60" fill="#5db368"/>
<rect x="275.30" y="252.20" width="1.5" height="14.60" fill="#46597f"/>
<rect x="276.30" y="252.20" width="1.5" height="14.60" fill="#414584"/>
<rect x="277.30" y="252.20" width="1.5" height="14.60" fill="#44367c"/>
<rect x="278.30" y="252.20" width="1.5" height="14.60" fill="#423a76"/>
<rect x="279.30" y="252.20" width="1.5" height="14.60" fill="#307c80"/>
<rect x="280.30" y="252.20" width="1.5" height="14.60" fill="#413d77"/>
<rect x="281.30" y="252.20" width="1.5" height="14.60" fill="#45206b"/>
<rect x="282.30" y="252.20" width="1.5" height="14.60" fill="#443279"/>
<rect x="283.30" y="252.20" width="1.5" height="14.60" fill="#44377d"/>
<rect x="284.30" y="252.20" width="1.5" height="14.60" fill="#423f80"/>
<rect x="285.30" y="252.20" width="1.5" height="14.60" fill="#452d77"/>
<rect x="286.30" y="252.20" width="1.5" height="14.60" fill="#452c76"/>
<rect x="287.30" y="252.20" width="1.5" height="14.60" fill="#453078"/>
<rect x="288.30" y="252.20" width="1.5" height="14.60" fill="#403f7c"/>
<rect x="289.30" y="252.20" width="1.5" height="14.60" fill="#2f6f83"/>
<rect x="290.30" y="252.20" width="1.5" height="14.60" fill="#413374"/>
<rect x="291.30" y="252.20" width="1.5" height="14.60" fill="#453179"/>
<rect x="292.30" y="252.20" width="1.5" height="14.60" fill="#462e77"/>
<rect x="293.30" y="252.20" width="1.5" height="14.60" fill="#40407b"/>
<rect x="294.30" y="252.20" width="1.5" height="14.60" fill="#2e7985"/>
<rect x="295.30" y="252.20" width="1.5" height="14.60" fill="#3b547f"/>
<rect x="296.30" y="252.20" width="1.5" height="14.60" fill="#2b8f85"/>
<rect x="297.30" y="252.20" width="1.5" height="14.60" fill="#2a9186"/>
<rect x="298.30" y="252.20" width="1.5" height="14.60" fill="#3d5284"/>
<rect x="299.30" y="252.20" width="1.5" height="14.60" fill="#3f4b85"/>
<rect x="300.30" y="252.20" width="1.5" height="14.60" fill="#316b8b"/>
<rect x="301.30" y="252.20" width="1.5" height="14.60" fill="#326788"/>
<rect x="302.30" y="252.20" width="1.5" height="14.60" fill="#423a7b"/>
<rect x="303.30" y="252.20" width="1.5" height="14.60" fill="#424182"/>
<rect x="304.30" y="252.20" width="1.5" height="14.60" fill="#414483"/>
<rect x="305.30" y="252.20" width="1.5" height="14.60" fill="#3c5186"/>
<rect x="306.30" y="252.20" width="1.5" height="14.60" fill="#2f7289"/>
<rect x="307.30" y="252.20" width="1.5" height="14.60" fill="#3f4680"/>
<rect x="308.30" y="252.20" width="1.5" height="14.60" fill="#453279"/>
<rect x="309.30" y="252.20" width="1.5" height="14.60" fill="#43397e"/>
<rect x="310.30" y="252.20" width="1.5" height="14.60" fill="#404280"/>
<rect x="311.30" y="252.20" width="1.5" height="14.60" fill="#355d85"/>
<rect x="312.30" y="252.20" width="1.5" height="14.60" fill="#3e3b76"/>
<rect x="313.30" y="252.20" width="1.5" height="14.60" fill="#2b7986"/>
<rect x="314.30" y="252.20" width="1.5" height="14.60" fill="#2c7d89"/>
<rect x="315.30" y="252.20" width="1.5" height="14.60" fill="#3f447f"/>
<rect x="316.30" y="252.20" width="1.5" height="14.60" fill="#452e77"/>
<rect x="317.30" y="252.20" width="1.5" height="14.60" fill="#462974"/>
<rect x="318.30" y="252.20" width="1.5" height="14.60" fill="#453279"/>
<rect x="319.30" y="252.20" width="1.5" height="14.60" fill="#472a75"/>
<rect x="320.30" y="252.20" width="1.5" height="14.60" fill="#423778"/>
<rect x="321.30" y="252.20" width="1.5" height="14.60" fill="#306f88"/>
<rect x="322.30" y="252.20" width="1.5" height="14.60" fill="#34668b"/>
<rect x="323.30" y="252.20" width="1.5" height="14.60" fill="#385c89"/>
<rect x="324.30" y="252.20" width="1.5" height="14.60" fill="#413b7b"/>
<rect x="325.30" y="252.20" width="1.5" height="14.60" fill="#441965"/>
<rect x="326.30" y="252.20" width="1.5" height="14.60" fill="#423478"/>
<rect x="327.30" y="252.20" width="1.5" height="14.60" fill="#3b5184"/>
<rect x="328.30" y="252.20" width="1.5" height="14.60" fill="#442971"/>
<rect x="329.30" y="252.20" width="1.5" height="14.60" fill="#412569"/>
<rect x="330.30" y="252.20" width="1.5" height="14.60" fill="#326381"/>
<rect x="331.30" y="252.20" width="1.5" height="14.60" fill="#423778"/>
<rect x="332.30" y="252.20" width="1.5" height="14.60" fill="#452c75"/>
<rect x="333.30" y="252.20" width="1.5" height="14.60" fill="#461d69"/>
<rect x="334.30" y="252.20" width="1.5" height="14.60" fill="#451e6a"/>
<rect x="335.30" y="252.20" width="1.5" height="14.60" fill="#44347a"/>
<rect x="336.30" y="252.20" width="1.5" height="14.60" fill="#462e77"/>
<rect x="337.30" y="252.20" width="1.5" height="14.60" fill="#43387c"/>
<rect x="338.30" y="252.20" width="1.5" height="14.60" fill="#3c5085"/>
<rect x="339.30" y="252.20" width="1.5" height="14.60" fill="#433a7d"/>
<rect x="340.30" y="252.20" width="1.5" height="14.60" fill="#443279"/>
<rect x="341.30" y="252.20" width="1.5" height="14.60" fill="#472572"/>
<rect x="342.30" y="252.20" width="1.5" height="14.60" fill="#423174"/>
<rect x="343.30" y="252.20" width="1.5" height="14.60" fill="#316884"/>
<rect x="344.30" y="252.20" width="1.5" height="14.60" fill="#423477"/>
<rect x="345.30" y="252.20" width="1.5" height="14.60" fill="#472673"/>
<rect x="346.30" y="252.20" width="1.5" height="14.60" fill="#473d73"/>
<rect x="347.30" y="252.20" width="1.5" height="14.60" fill="#48a672"/>
<rect x="348.30" y="252.20" width="1.5" height="14.60" fill="#48a772"/>
<rect x="349.30" y="252.20" width="1.5" height="14.60" fill="#464376"/>
<rect x="350.30" y="252.20" width="1.5" height="14.60" fill="#413e79"/>
<rect x="351.30" y="252.20" width="1.5" height="14.60" fill="#2f7681"/>
<rect x="352.30" y="252.20" width="1.5" height="14.60" fill="#3c4175"/>
<rect x="353.30" y="252.20" width="1.5" height="14.60" fill="#2b7e85"/>
<rect x="354.30" y="252.20" width="1.5" height="14.60" fill="#26a085"/>
<rect x="355.30" y="252.20" width="1.5" height="14.60" fill="#29a483"/>
<rect x="356.30" y="252.20" width="1.5" height="14.60" fill="#31ab7f"/>
<rect x="357.30" y="252.20" width="1.5" height="14.60" fill="#29a085"/>
<rect x="358.30" y="252.20" width="1.5" height="14.60" fill="#29a683"/>
<rect x="359.30" y="252.20" width="1.5" height="14.60" fill="#3bb379"/>
<rect x="360.30" y="252.20" width="1.5" height="14.60" fill="#4fbd6e"/>
<rect x="361.30" y="252.20" width="1.5" height="14.60" fill="#38b07b"/>
<rect x="362.30" y="252.20" width="1.5" height="14.60" fill="#2b9b84"/>
<rect x="363.30" y="252.20" width="1.5" height="14.60" fill="#326f8a"/>
<rect x="364.30" y="252.20" width="1.5" height="14.60" fill="#327189"/>
<rect x="365.30" y="252.20" width="1.5" height="14.60" fill="#2da082"/>
<rect x="366.30" y="252.20" width="1.5" height="14.60" fill="#2e9e82"/>
<rect x="367.30" y="252.20" width="1.5" height="14.60" fill="#346c88"/>
<rect x="368.30" y="252.20" width="1.5" height="14.60" fill="#316d8b"/>
<rect x="369.30" y="252.20" width="1.5" height="14.60" fill="#36618b"/>
<rect x="370.30" y="252.20" width="1.5" height="14.60" fill="#386b88"/>
<rect x="371.30" y="252.20" width="1.5" height="14.60" fill="#3a997e"/>
<rect x="372.30" y="252.20" width="1.5" height="14.60" fill="#3f7381"/>
<rect x="373.30" y="252.20" width="1.5" height="14.60" fill="#4da473"/>
<rect x="374.30" y="252.20" width="1.5" height="14.60" fill="#387586"/>
<rect x="375.30" y="252.20" width="1.5" height="14.60" fill="#376f87"/>
<rect x="376.30" y="252.20" width="1.5" height="14.60" fill="#46ae75"/>
<rect x="377.30" y="252.20" width="1.5" height="14.60" fill="#58b76b"/>
<rect x="378.30" y="252.20" width="1.5" height="14.60" fill="#397985"/>
<rect x="379.30" y="252.20" width="1.5" height="14.60" fill="#316e8c"/>
<rect x="380.30" y="252.20" width="1.5" height="14.60" fill="#2f718c"/>
<rect x="381.30" y="252.20" width="1.5" height="14.60" fill="#327c88"/>
<rect x="382.30" y="252.20" width="1.5" height="14.60" fill="#3ca17c"/>
<rect x="383.30" y="252.20" width="1.5" height="14.60" fill="#377f84"/>
<rect x="384.30" y="252.20" width="1.5" height="14.60" fill="#3eab79"/>
<rect x="385.30" y="252.20" width="1.5" height="14.60" fill="#3dae79"/>
<rect x="386.30" y="252.20" width="1.5" height="14.60" fill="#2e8489"/>
<rect x="387.30" y="252.20" width="1.5" height="14.60" fill="#2d778c"/>
<rect x="388.30" y="252.20" width="1.5" height="14.60" fill="#316e8c"/>
<rect x="389.30" y="252.20" width="1.5" height="14.60" fill="#306f8c"/>
<rect x="390.30" y="252.20" width="1.5" height="14.60" fill="#398882"/>
<rect x="391.30" y="252.20" width="1.5" height="14.60" fill="#69b562"/>
<rect x="392.30" y="252.20" width="1.5" height="14.60" fill="#3e7b83"/>
<rect x="393.30" y="252.20" width="1.5" height="14.60" fill="#316c8b"/>
<rect x="394.30" y="252.20" width="1.5" height="14.60" fill="#2d7c8a"/>
<rect x="395.30" y="252.20" width="1.5" height="14.60" fill="#2a9885"/>
<rect x="396.30" y="252.20" width="1.5" height="14.60" fill="#30768a"/>
<rect x="397.30" y="252.20" width="1.5" height="14.60" fill="#3b6485"/>
<rect x="398.30" y="252.20" width="1.5" height="14.60" fill="#3d9b7c"/>
<rect x="399.30" y="252.20" width="1.5" height="14.60" fill="#386d87"/>
<rect x="400.30" y="252.20" width="1.5" height="14.60" fill="#3a5788"/>
<rect x="401.30" y="252.20" width="1.5" height="14.60" fill="#326b8b"/>
<rect x="402.30" y="252.20" width="1.5" height="14.60" fill="#34658b"/>
<rect x="403.30" y="252.20" width="1.5" height="14.60" fill="#35648a"/>
<rect x="404.30" y="252.20" width="1.5" height="14.60" fill="#35628b"/>
<rect x="405.30" y="252.20" width="1.5" height="14.60" fill="#30718b"/>
<rect x="406.30" y="252.20" width="1.5" height="14.60" fill="#316e8a"/>
<rect x="407.30" y="252.20" width="1.5" height="14.60" fill="#2c8488"/>
<rect x="408.30" y="252.20" width="1.5" height="14.60" fill="#3e4e83"/>
<rect x="409.30" y="252.20" width="1.5" height="14.60" fill="#453279"/>
<rect x="410.30" y="252.20" width="1.5" height="14.60" fill="#453178"/>
<rect x="411.30" y="252.20" width="1.5" height="14.60" fill="#433d7f"/>
<rect x="412.30" y="252.20" width="1.5" height="14.60" fill="#414283"/>
<rect x="413.30" y="252.20" width="1.5" height="14.60" fill="#3f4985"/>
<rect x="414.30" y="252.20" width="1.5" height="14.60" fill="#3b5387"/>
<rect x="415.30" y="252.20" width="1.5" height="14.60" fill="#3d4c80"/>
<rect x="416.30" y="252.20" width="1.5" height="14.60" fill="#2a8a86"/>
<rect x="417.30" y="252.20" width="1.5" height="14.60" fill="#269588"/>
<rect x="418.30" y="252.20" width="1.5" height="14.60" fill="#2d8e87"/>
<rect x="419.30" y="252.20" width="1.5" height="14.60" fill="#42b376"/>
<rect x="420.30" y="252.20" width="1.5" height="14.60" fill="#43b376"/>
<rect x="421.30" y="252.20" width="1.5" height="14.60" fill="#369083"/>
<rect x="422.30" y="252.20" width="1.5" height="14.60" fill="#4cac73"/>
<rect x="423.30" y="252.20" width="1.5" height="14.60" fill="#357e86"/>
<rect x="424.30" y="252.20" width="1.5" height="14.60" fill="#2d768c"/>
<rect x="425.30" y="252.20" width="1.5" height="14.60" fill="#358386"/>
<rect x="426.30" y="252.20" width="1.5" height="14.60" fill="#61bc65"/>
<rect x="427.30" y="252.20" width="1.5" height="14.60" fill="#79c158"/>
<rect x="428.30" y="252.20" width="1.5" height="14.60" fill="#3f7c81"/>
<rect x="429.30" y="252.20" width="1.5" height="14.60" fill="#2c788b"/>
<rect x="430.30" y="252.20" width="1.5" height="14.60" fill="#387c85"/>
<rect x="431.30" y="252.20" width="1.5" height="14.60" fill="#5bb869"/>
<rect x="432.30" y="252.20" width="1.5" height="14.60" fill="#5cc367"/>
<rect x="433.30" y="252.20" width="1.5" height="14.60" fill="#3dab7a"/>
<rect x="434.30" y="252.20" width="1.5" height="14.60" fill="#317a89"/>
<rect x="435.30" y="252.20" width="1.5" height="14.60" fill="#44817e"/>
<rect x="436.30" y="252.20" width="1.5" height="14.60" fill="#92bb4a"/>
<rect x="437.30" y="252.20" width="1.5" height="14.60" fill="#477b7d"/>
<rect x="438.30" y="252.20" width="1.5" height="14.60" fill="#316b8b"/>
<rect x="439.30" y="252.20" width="1.5" height="14.60" fill="#337189"/>
<rect x="440.30" y="252.20" width="1.5" height="14.60" fill="#30a181"/>
<rect x="441.30" y="252.20" width="1.5" height="14.60" fill="#2fa381"/>
<rect x="442.30" y="252.20" width="1.5" height="14.60" fill="#337088"/>
<rect x="443.30" y="252.20" width="1.5" height="14.60" fill="#3d5380"/>
<rect x="444.30" y="252.20" width="1.5" height="14.60" fill="#319b7f"/>
<rect x="445.30" y="252.20" width="1.5" height="14.60" fill="#2da881"/>
<rect x="446.30" y="252.20" width="1.5" height="14.60" fill="#269887"/>
<rect x="447.30" y="252.20" width="1.5" height="14.60" fill="#259489"/>
<rect x="448.30" y="252.20" width="1.5" height="14.60" fill="#278d89"/>
<rect x="449.30" y="252.20" width="1.5" height="14.60" fill="#326c8a"/>
<rect x="450.30" y="252.20" width="1.5" height="14.60" fill="#35628a"/>
<rect x="451.30" y="252.20" width="1.5" height="14.60" fill="#366488"/>
<rect x="452.30" y="252.20" width="1.5" height="14.60" fill="#2d8986"/>
<rect x="453.30" y="252.20" width="1.5" height="14.60" fill="#3a5b86"/>
<rect x="454.30" y="252.20" width="1.5" height="14.60" fill="#3c5187"/>
<rect x="455.30" y="252.20" width="1.5" height="14.60" fill="#3b5388"/>
<rect x="456.30" y="252.20" width="1.5" height="14.60" fill="#385d8a"/>
<rect x="457.30" y="252.20" width="1.5" height="14.60" fill="#34698a"/>
<rect x="458.30" y="252.20" width="1.5" height="14.60" fill="#2c8a86"/>
<rect x="459.30" y="252.20" width="1.5" height="14.60" fill="#346c87"/>
<rect x="460.30" y="252.20" width="1.5" height="14.60" fill="#299686"/>
<rect x="461.30" y="252.20" width="1.5" height="14.60" fill="#2a9485"/>
<rect x="462.30" y="252.20" width="1.5" height="14.60" fill="#3b5886"/>
<rect x="463.30" y="252.20" width="1.5" height="14.60" fill="#3d4d86"/>
<rect x="464.30" y="252.20" width="1.5" height="14.60" fill="#3b5488"/>
<rect x="465.30" y="252.20" width="1.5" height="14.60" fill="#3b5287"/>
<rect x="466.30" y="252.20" width="1.5" height="14.60" fill="#424d7c"/>
<rect x="467.30" y="252.20" width="1.0" height="14.60" fill="#40a377"/>
<rect x="267.30" y="266.10" width="1.5" height="13.50" fill="#3c5f85"/>
<rect x="268.30" y="266.10" width="1.5" height="13.50" fill="#389a7e"/>
<rect x="269.30" y="266.10" width="1.5" height="13.50" fill="#337588"/>
<rect x="270.30" y="266.10" width="1.5" height="13.50" fill="#3d4f86"/>
<rect x="271.30" y="266.10" width="1.5" height="13.50" fill="#3f4b86"/>
<rect x="272.30" y="266.10" width="1.5" height="13.50" fill="#4a677d"/>
<rect x="273.30" y="266.10" width="1.5" height="13.50" fill="#8ec34d"/>
<rect x="274.30" y="266.10" width="1.5" height="13.50" fill="#8fc04c"/>
<rect x="275.30" y="266.10" width="1.5" height="13.50" fill="#4c6779"/>
<rect x="276.30" y="266.10" width="1.5" height="13.50" fill="#2c9883"/>
<rect x="277.30" y="266.10" width="1.5" height="13.50" fill="#2e9e82"/>
<rect x="278.30" y="266.10" width="1.5" height="13.50" fill="#386588"/>
<rect x="279.30" y="266.10" width="1.5" height="13.50" fill="#414583"/>
<rect x="280.30" y="266.10" width="1.5" height="13.50" fill="#44357a"/>
<rect x="281.30" y="266.10" width="1.5" height="13.50" fill="#404583"/>
<rect x="282.30" y="266.10" width="1.5" height="13.50" fill="#3c5585"/>
<rect x="283.30" y="266.10" width="1.5" height="13.50" fill="#2d8586"/>
<rect x="284.30" y="266.10" width="1.5" height="13.50" fill="#356688"/>
<rect x="285.30" y="266.10" width="1.5" height="13.50" fill="#307089"/>
<rect x="286.30" y="266.10" width="1.5" height="13.50" fill="#3d4b82"/>
<rect x="287.30" y="266.10" width="1.5" height="13.50" fill="#375d89"/>
<rect x="288.30" y="266.10" width="1.5" height="13.50" fill="#35648a"/>
<rect x="289.30" y="266.10" width="1.5" height="13.50" fill="#366189"/>
<rect x="290.30" y="266.10" width="1.5" height="13.50" fill="#3d4b83"/>
<rect x="291.30" y="266.10" width="1.5" height="13.50" fill="#365d87"/>
<rect x="292.30" y="266.10" width="1.5" height="13.50" fill="#413b7c"/>
<rect x="293.30" y="266.10" width="1.5" height="13.50" fill="#3f4681"/>
<rect x="294.30" y="266.10" width="1.5" height="13.50" fill="#413978"/>
<rect x="295.30" y="266.10" width="1.5" height="13.50" fill="#316d86"/>
<rect x="296.30" y="266.10" width="1.5" height="13.50" fill="#3c5286"/>
<rect x="297.30" y="266.10" width="1.5" height="13.50" fill="#3f4b86"/>
<rect x="298.30" y="266.10" width="1.5" height="13.50" fill="#3b5488"/>
<rect x="299.30" y="266.10" width="1.5" height="13.50" fill="#396387"/>
<rect x="300.30" y="266.10" width="1.5" height="13.50" fill="#319f80"/>
<rect x="301.30" y="266.10" width="1.5" height="13.50" fill="#31ad7e"/>
<rect x="302.30" y="266.10" width="1.5" height="13.50" fill="#3aa77b"/>
<rect x="303.30" y="266.10" width="1.5" height="13.50" fill="#3b6485"/>
<rect x="304.30" y="266.10" width="1.5" height="13.50" fill="#404683"/>
<rect x="305.30" y="266.10" width="1.5" height="13.50" fill="#3b5985"/>
<rect x="306.30" y="266.10" width="1.5" height="13.50" fill="#308c83"/>
<rect x="307.30" y="266.10" width="1.5" height="13.50" fill="#3b5b86"/>
<rect x="308.30" y="266.10" width="1.5" height="13.50" fill="#3b5488"/>
<rect x="309.30" y="266.10" width="1.5" height="13.50" fill="#395a87"/>
<rect x="310.30" y="266.10" width="1.5" height="13.50" fill="#2c8287"/>
<rect x="311.30" y="266.10" width="1.5" height="13.50" fill="#3a5987"/>
<rect x="312.30" y="266.10" width="1.5" height="13.50" fill="#3e4b85"/>
<rect x="313.30" y="266.10" width="1.5" height="13.50" fill="#423c7d"/>
<rect x="314.30" y="266.10" width="1.5" height="13.50" fill="#3d4c84"/>
<rect x="315.30" y="266.10" width="1.5" height="13.50" fill="#423e7f"/>
<rect x="316.30" y="266.10" width="1.5" height="13.50" fill="#3b5684"/>
<rect x="317.30" y="266.10" width="1.5" height="13.50" fill="#2d8786"/>
<rect x="318.30" y="266.10" width="1.5" height="13.50" fill="#3b5886"/>
<rect x="319.30" y="266.10" width="1.5" height="13.50" fill="#414483"/>
<rect x="320.30" y="266.10" width="1.5" height="13.50" fill="#433a7e"/>
<rect x="321.30" y="266.10" width="1.5" height="13.50" fill="#3d4d84"/>
<rect x="322.30" y="266.10" width="1.5" height="13.50" fill="#2a8189"/>
<rect x="323.30" y="266.10" width="1.5" height="13.50" fill="#2a7e88"/>
<rect x="324.30" y="266.10" width="1.5" height="13.50" fill="#3f427d"/>
<rect x="325.30" y="266.10" width="1.5" height="13.50" fill="#45337a"/>
<rect x="326.30" y="266.10" width="1.5" height="13.50" fill="#462c76"/>
<rect x="327.30" y="266.10" width="1.5" height="13.50" fill="#442f77"/>
<rect x="328.30" y="266.10" width="1.5" height="13.50" fill="#3d4d85"/>
<rect x="329.30" y="266.10" width="1.5" height="13.50" fill="#3d4f87"/>
<rect x="330.30" y="266.10" width="1.5" height="13.50" fill="#3d6485"/>
<rect x="331.30" y="266.10" width="1.5" height="13.50" fill="#46ad75"/>
<rect x="332.30" y="266.10" width="1.5" height="13.50" fill="#44b276"/>
<rect x="333.30" y="266.10" width="1.5" height="13.50" fill="#328088"/>
<rect x="334.30" y="266.10" width="1.5" height="13.50" fill="#306f8b"/>
<rect x="335.30" y="266.10" width="1.5" height="13.50" fill="#395988"/>
<rect x="336.30" y="266.10" width="1.5" height="13.50" fill="#32688a"/>
<rect x="337.30" y="266.10" width="1.5" height="13.50" fill="#3e4c85"/>
<rect x="338.30" y="266.10" width="1.5" height="13.50" fill="#424283"/>
<rect x="339.30" y="266.10" width="1.5" height="13.50" fill="#433c7e"/>
<rect x="340.30" y="266.10" width="1.5" height="13.50" fill="#413470"/>
<rect x="341.30" y="266.10" width="1.5" height="13.50" fill="#2b8a82"/>
<rect x="342.30" y="266.10" width="1.5" height="13.50" fill="#2b8981"/>
<rect x="343.30" y="266.10" width="1.5" height="13.50" fill="#41326e"/>
<rect x="344.30" y="266.10" width="1.5" height="13.50" fill="#41457a"/>
<rect x="345.30" y="266.10" width="1.5" height="13.50" fill="#329a7e"/>
<rect x="346.30" y="266.10" width="1.5" height="13.50" fill="#3bb178"/>
<rect x="347.30" y="266.10" width="1.5" height="13.50" fill="#71ca5c"/>
<rect x="348.30" y="266.10" width="1.5" height="13.50" fill="#71bf5d"/>
<rect x="349.30" y="266.10" width="1.5" height="13.50" fill="#3e7783"/>
<rect x="350.30" y="266.10" width="1.5" height="13.50" fill="#31718a"/>
<rect x="351.30" y="266.10" width="1.5" height="13.50" fill="#2d9f83"/>
<rect x="352.30" y="266.10" width="1.5" height="13.50" fill="#3da97a"/>
<rect x="353.30" y="266.10" width="1.5" height="13.50" fill="#386e87"/>
<rect x="354.30" y="266.10" width="1.5" height="13.50" fill="#457380"/>
<rect x="355.30" y="266.10" width="1.5" height="13.50" fill="#7abe57"/>
<rect x="356.30" y="266.10" width="1.5" height="13.50" fill="#43a877"/>
<rect x="357.30" y="266.10" width="1.5" height="13.50" fill="#366c88"/>
<rect x="358.30" y="266.10" width="1.5" height="13.50" fill="#398384"/>
<rect x="359.30" y="266.10" width="1.5" height="13.50" fill="#62b367"/>
<rect x="360.30" y="266.10" width="1.5" height="13.50" fill="#3b8382"/>
<rect x="361.30" y="266.10" width="1.5" height="13.50" fill="#2e9a83"/>
<rect x="362.30" y="266.10" width="1.5" height="13.50" fill="#2b8a88"/>
<rect x="363.30" y="266.10" width="1.5" height="13.50" fill="#2b9a85"/>
<rect x="364.30" y="266.10" width="1.5" height="13.50" fill="#2f778a"/>
<rect x="365.30" y="266.10" width="1.5" height="13.50" fill="#336a8b"/>
<rect x="366.30" y="266.10" width="1.5" height="13.50" fill="#326b8b"/>
<rect x="367.30" y="266.10" width="1.5" height="13.50" fill="#2d778c"/>
<rect x="368.30" y="266.10" width="1.5" height="13.50" fill="#2b7c8b"/>
<rect x="369.30" y="266.10" width="1.5" height="13.50" fill="#2f728c"/>
<rect x="370.30" y="266.10" width="1.5" height="13.50" fill="#2f728c"/>
<rect x="371.30" y="266.10" width="1.5" height="13.50" fill="#2c7a8c"/>
<rect x="372.30" y="266.10" width="1.5" height="13.50" fill="#2a808b"/>
<rect x="373.30" y="266.10" width="1.5" height="13.50" fill="#2d788c"/>
<rect x="374.30" y="266.10" width="1.5" height="13.50" fill="#2f708c"/>
<rect x="375.30" y="266.10" width="1.5" height="13.50" fill="#348086"/>
<rect x="376.30" y="266.10" width="1.5" height="13.50" fill="#4eac72"/>
<rect x="377.30" y="266.10" width="1.5" height="13.50" fill="#358286"/>
<rect x="378.30" y="266.10" width="1.5" height="13.50" fill="#2e748c"/>
<rect x="379.30" y="266.10" width="1.5" height="13.50" fill="#33678b"/>
<rect x="380.30" y="266.10" width="1.5" height="13.50" fill="#316e8b"/>
<rect x="381.30" y="266.10" width="1.5" height="13.50" fill="#377587"/>
<rect x="382.30" y="266.10" width="1.5" height="13.50" fill="#44a478"/>
<rect x="383.30" y="266.10" width="1.5" height="13.50" fill="#347b87"/>
<rect x="384.30" y="266.10" width="1.5" height="13.50" fill="#28848b"/>
<rect x="385.30" y="266.10" width="1.5" height="13.50" fill="#2a818b"/>
<rect x="386.30" y="266.10" width="1.5" height="13.50" fill="#366089"/>
<rect x="387.30" y="266.10" width="1.5" height="13.50" fill="#34668a"/>
<rect x="388.30" y="266.10" width="1.5" height="13.50" fill="#2c788c"/>
<rect x="389.30" y="266.10" width="1.5" height="13.50" fill="#2d788c"/>
<rect x="390.30" y="266.10" width="1.5" height="13.50" fill="#357088"/>
<rect x="391.30" y="266.10" width="1.5" height="13.50" fill="#379c7f"/>
<rect x="392.30" y="266.10" width="1.5" height="13.50" fill="#337689"/>
<rect x="393.30" y="266.10" width="1.5" height="13.50" fill="#36618a"/>
<rect x="394.30" y="266.10" width="1.5" height="13.50" fill="#307b89"/>
<rect x="395.30" y="266.10" width="1.5" height="13.50" fill="#349981"/>
<rect x="396.30" y="266.10" width="1.5" height="13.50" fill="#396587"/>
<rect x="397.30" y="266.10" width="1.5" height="13.50" fill="#367387"/>
<rect x="398.30" y="266.10" width="1.5" height="13.50" fill="#3fad78"/>
<rect x="399.30" y="266.10" width="1.5" height="13.50" fill="#3aa97b"/>
<rect x="400.30" y="266.10" width="1.5" height="13.50" fill="#347388"/>
<rect x="401.30" y="266.10" width="1.5" height="13.50" fill="#34648a"/>
<rect x="402.30" y="266.10" width="1.5" height="13.50" fill="#34688a"/>
<rect x="403.30" y="266.10" width="1.5" height="13.50" fill="#2a848a"/>
<rect x="404.30" y="266.10" width="1.5" height="13.50" fill="#316d8b"/>
<rect x="405.30" y="266.10" width="1.5" height="13.50" fill="#2f718b"/>
<rect x="406.30" y="266.10" width="1.5" height="13.50" fill="#316b8b"/>
<rect x="407.30" y="266.10" width="1.5" height="13.50" fill="#3c8780"/>
<rect x="408.30" y="266.10" width="1.5" height="13.50" fill="#79ba59"/>
<rect x="409.30" y="266.10" width="1.5" height="13.50" fill="#3f8281"/>
<rect x="410.30" y="266.10" width="1.5" height="13.50" fill="#2f728c"/>
<rect x="411.30" y="266.10" width="1.5" height="13.50" fill="#347c88"/>
<rect x="412.30" y="266.10" width="1.5" height="13.50" fill="#52b56e"/>
<rect x="413.30" y="266.10" width="1.5" height="13.50" fill="#86d04f"/>
<rect x="414.30" y="266.10" width="1.5" height="13.50" fill="#7dce54"/>
<rect x="415.30" y="266.10" width="1.5" height="13.50" fill="#7ec056"/>
<rect x="416.30" y="266.10" width="1.5" height="13.50" fill="#456e80"/>
<rect x="417.30" y="266.10" width="1.5" height="13.50" fill="#385d89"/>
<rect x="418.30" y="266.10" width="1.5" height="13.50" fill="#36618a"/>
<rect x="419.30" y="266.10" width="1.5" height="13.50" fill="#365f8a"/>
<rect x="420.30" y="266.10" width="1.5" height="13.50" fill="#3d4e86"/>
<rect x="421.30" y="266.10" width="1.5" height="13.50" fill="#423f81"/>
<rect x="422.30" y="266.10" width="1.5" height="13.50" fill="#414483"/>
<rect x="423.30" y="266.10" width="1.5" height="13.50" fill="#3f4985"/>
<rect x="424.30" y="266.10" width="1.5" height="13.50" fill="#414583"/>
<rect x="425.30" y="266.10" width="1.5" height="13.50" fill="#423f81"/>
<rect x="426.30" y="266.10" width="1.5" height="13.50" fill="#404784"/>
<rect x="427.30" y="266.10" width="1.5" height="13.50" fill="#3f4a85"/>
<rect x="428.30" y="266.10" width="1.5" height="13.50" fill="#424283"/>
<rect x="429.30" y="266.10" width="1.5" height="13.50" fill="#424182"/>
<rect x="430.30" y="266.10" width="1.5" height="13.50" fill="#414483"/>
<rect x="431.30" y="266.10" width="1.5" height="13.50" fill="#3e4b86"/>
<rect x="432.30" y="266.10" width="1.5" height="13.50" fill="#3d4f87"/>
<rect x="433.30" y="266.10" width="1.5" height="13.50" fill="#3a5688"/>
<rect x="434.30" y="266.10" width="1.5" height="13.50" fill="#3f4783"/>
<rect x="435.30" y="266.10" width="1.5" height="13.50" fill="#385b87"/>
<rect x="436.30" y="266.10" width="1.5" height="13.50" fill="#288a89"/>
<rect x="437.30" y="266.10" width="1.5" height="13.50" fill="#2a9186"/>
<rect x="438.30" y="266.10" width="1.5" height="13.50" fill="#396a84"/>
<rect x="439.30" y="266.10" width="1.5" height="13.50" fill="#3a907c"/>
<rect x="440.30" y="266.10" width="1.5" height="13.50" fill="#43477b"/>
<rect x="441.30" y="266.10" width="1.5" height="13.50" fill="#45367b"/>
<rect x="442.30" y="266.10" width="1.5" height="13.50" fill="#433b7e"/>
<rect x="443.30" y="266.10" width="1.5" height="13.50" fill="#424283"/>
<rect x="444.30" y="266.10" width="1.5" height="13.50" fill="#414684"/>
<rect x="445.30" y="266.10" width="1.5" height="13.50" fill="#414684"/>
<rect x="446.30" y="266.10" width="1.5" height="13.50" fill="#404785"/>
<rect x="447.30" y="266.10" width="1.5" height="13.50" fill="#3f4a85"/>
<rect x="448.30" y="266.10" width="1.5" height="13.50" fill="#404783"/>
<rect x="449.30" y="266.10" width="1.5" height="13.50" fill="#44367c"/>
<rect x="450.30" y="266.10" width="1.5" height="13.50" fill="#43377c"/>
<rect x="451.30" y="266.10" width="1.5" height="13.50" fill="#3e5c83"/>
<rect x="452.30" y="266.10" width="1.5" height="13.50" fill="#3e967b"/>
<rect x="453.30" y="266.10" width="1.5" height="13.50" fill="#3d5e83"/>
<rect x="454.30" y="266.10" width="1.5" height="13.50" fill="#2e768a"/>
<rect x="455.30" y="266.10" width="1.5" height="13.50" fill="#2a7e8b"/>
<rect x="456.30" y="266.10" width="1.5" height="13.50" fill="#2b7c8c"/>
<rect x="457.30" y="266.10" width="1.5" height="13.50" fill="#2f6c86"/>
<rect x="458.30" y="266.10" width="1.5" height="13.50" fill="#41276b"/>
<rect x="459.30" y="266.10" width="1.5" height="13.50" fill="#432b72"/>
<rect x="460.30" y="266.10" width="1.5" height="13.50" fill="#356187"/>
<rect x="461.30" y="266.10" width="1.5" height="13.50" fill="#34658a"/>
<rect x="462.30" y="266.10" width="1.5" height="13.50" fill="#414280"/>
<rect x="463.30" y="266.10" width="1.5" height="13.50" fill="#45337a"/>
<rect x="464.30" y="266.10" width="1.5" height="13.50" fill="#462d76"/>
<rect x="465.30" y="266.10" width="1.5" height="13.50" fill="#412f70"/>
<rect x="466.30" y="266.10" width="1.5" height="13.50" fill="#2d7686"/>
<rect x="467.30" y="266.10" width="1.0" height="13.50" fill="#2d768c"/>
<rect x="248.90" y="198.10" width="1.50" height="12.60" fill="#34628d"/>
<rect x="248.90" y="210.00" width="1.50" height="14.70" fill="#2e6f8e"/>
<rect x="248.90" y="224.00" width="1.50" height="14.90" fill="#3f4888"/>
<rect x="248.90" y="238.20" width="1.50" height="14.70" fill="#375b8c"/>
<rect x="248.90" y="252.20" width="1.50" height="14.60" fill="#365c8c"/>
<rect x="248.90" y="266.10" width="1.50" height="13.50" fill="#39558b"/>
<rect x="249.90" y="198.10" width="1.50" height="12.60" fill="#35608d"/>
<rect x="249.90" y="210.00" width="1.50" height="14.70" fill="#39558b"/>
<rect x="249.90" y="224.00" width="1.50" height="14.90" fill="#31698d"/>
<rect x="249.90" y="238.20" width="1.50" height="14.70" fill="#306b8d"/>
<rect x="249.90" y="252.20" width="1.50" height="14.60" fill="#34608d"/>
<rect x="249.90" y="266.10" width="1.50" height="13.50" fill="#3a538a"/>
<rect x="250.90" y="198.10" width="1.50" height="12.60" fill="#3d4d89"/>
<rect x="250.90" y="210.00" width="1.50" height="14.70" fill="#31698d"/>
<rect x="250.90" y="224.00" width="1.50" height="14.90" fill="#38598c"/>
<rect x="250.90" y="238.20" width="1.50" height="14.70" fill="#31688d"/>
<rect x="250.90" y="252.20" width="1.50" height="14.60" fill="#33628d"/>
<rect x="250.90" y="266.10" width="1.50" height="13.50" fill="#365c8c"/>
<rect x="251.90" y="198.10" width="1.50" height="12.60" fill="#2c738e"/>
<rect x="251.90" y="210.00" width="1.50" height="14.70" fill="#3a538a"/>
<rect x="251.90" y="224.00" width="1.50" height="14.90" fill="#32658d"/>
<rect x="251.90" y="238.20" width="1.50" height="14.70" fill="#365c8c"/>
<rect x="251.90" y="252.20" width="1.50" height="14.60" fill="#34608d"/>
<rect x="251.90" y="266.10" width="1.50" height="13.50" fill="#31688d"/>
<rect x="252.90" y="198.10" width="1.50" height="12.60" fill="#31698d"/>
<rect x="252.90" y="210.00" width="1.50" height="14.70" fill="#2c738e"/>
<rect x="252.90" y="224.00" width="1.50" height="14.90" fill="#404788"/>
<rect x="252.90" y="238.20" width="1.50" height="14.70" fill="#3b528a"/>
<rect x="252.90" y="252.20" width="1.50" height="14.60" fill="#3d4e89"/>
<rect x="252.90" y="266.10" width="1.50" height="13.50" fill="#365d8d"/>
<rect x="253.90" y="198.10" width="1.50" height="12.60" fill="#34628d"/>
<rect x="253.90" y="210.00" width="1.50" height="14.70" fill="#375b8c"/>
<rect x="253.90" y="224.00" width="1.50" height="14.90" fill="#35608d"/>
<rect x="253.90" y="238.20" width="1.50" height="14.70" fill="#2c728e"/>
<rect x="253.90" y="252.20" width="1.50" height="14.60" fill="#3e4a88"/>
<rect x="253.90" y="266.10" width="1.50" height="13.50" fill="#3b518a"/>
<rect x="254.90" y="198.10" width="1.50" height="12.60" fill="#2e708e"/>
<rect x="254.90" y="210.00" width="1.50" height="14.70" fill="#365c8c"/>
<rect x="254.90" y="224.00" width="1.50" height="14.90" fill="#3d4d89"/>
<rect x="254.90" y="238.20" width="1.50" height="14.70" fill="#3c4f8a"/>
<rect x="254.90" y="252.20" width="1.50" height="14.60" fill="#3a548b"/>
<rect x="254.90" y="266.10" width="1.50" height="13.50" fill="#375b8c"/>
<rect x="255.90" y="198.10" width="1.50" height="12.60" fill="#3c508a"/>
<rect x="255.90" y="210.00" width="1.50" height="14.70" fill="#2c738e"/>
<rect x="255.90" y="224.00" width="1.50" height="14.90" fill="#38598c"/>
<rect x="255.90" y="238.20" width="1.50" height="14.70" fill="#365c8c"/>
<rect x="255.90" y="252.20" width="1.50" height="14.60" fill="#414487"/>
<rect x="255.90" y="266.10" width="1.50" height="13.50" fill="#423d83"/>
<rect x="256.90" y="198.10" width="1.50" height="12.60" fill="#3b528a"/>
<rect x="256.90" y="210.00" width="1.50" height="14.70" fill="#3b528a"/>
<rect x="256.90" y="224.00" width="1.50" height="14.90" fill="#3e4c89"/>
<rect x="256.90" y="238.20" width="1.50" height="14.70" fill="#34618d"/>
<rect x="256.90" y="252.20" width="1.50" height="14.60" fill="#3b528a"/>
<rect x="256.90" y="266.10" width="1.50" height="13.50" fill="#3a538a"/>
<rect x="257.90" y="198.10" width="1.50" height="12.60" fill="#2e708e"/>
<rect x="257.90" y="210.00" width="1.50" height="14.70" fill="#3d4e89"/>
<rect x="257.90" y="224.00" width="1.50" height="14.90" fill="#35608d"/>
<rect x="257.90" y="238.20" width="1.50" height="14.70" fill="#3f4988"/>
<rect x="257.90" y="252.20" width="1.50" height="14.60" fill="#375b8c"/>
<rect x="257.90" y="266.10" width="1.50" height="13.50" fill="#3a548b"/>
<rect x="258.90" y="198.10" width="1.50" height="12.60" fill="#3a538a"/>
<rect x="258.90" y="210.00" width="1.50" height="14.70" fill="#365d8d"/>
<rect x="258.90" y="224.00" width="1.50" height="14.90" fill="#33648d"/>
<rect x="258.90" y="238.20" width="1.50" height="14.70" fill="#2a778e"/>
<rect x="258.90" y="252.20" width="1.50" height="14.60" fill="#355f8d"/>
<rect x="258.90" y="266.10" width="1.50" height="13.50" fill="#2d718e"/>
<rect x="259.90" y="198.10" width="1.50" height="12.60" fill="#34628d"/>
<rect x="259.90" y="210.00" width="1.50" height="14.70" fill="#3b528a"/>
<rect x="259.90" y="224.00" width="1.50" height="14.90" fill="#33638d"/>
<rect x="259.90" y="238.20" width="1.50" height="14.70" fill="#365d8d"/>
<rect x="259.90" y="252.20" width="1.50" height="14.60" fill="#3b518a"/>
<rect x="259.90" y="266.10" width="1.50" height="13.50" fill="#3d4d89"/>
<rect x="260.90" y="198.10" width="1.50" height="12.60" fill="#3b528a"/>
<rect x="260.90" y="210.00" width="1.50" height="14.70" fill="#31698d"/>
<rect x="260.90" y="224.00" width="1.50" height="14.90" fill="#32658d"/>
<rect x="260.90" y="238.20" width="1.50" height="14.70" fill="#306b8d"/>
<rect x="260.90" y="252.20" width="1.50" height="14.60" fill="#34608d"/>
<rect x="260.90" y="266.10" width="1.50" height="13.50" fill="#3f4788"/>
<rect x="261.90" y="198.10" width="1.50" height="12.60" fill="#3d4e89"/>
<rect x="261.90" y="210.00" width="1.50" height="14.70" fill="#39568b"/>
<rect x="261.90" y="224.00" width="1.50" height="14.90" fill="#32658d"/>
<rect x="261.90" y="238.20" width="1.50" height="14.70" fill="#365c8c"/>
<rect x="261.90" y="252.20" width="1.50" height="14.60" fill="#38588c"/>
<rect x="261.90" y="266.10" width="1.50" height="13.50" fill="#355f8d"/>
<rect x="262.90" y="198.10" width="0.60" height="12.60" fill="#2b768e"/>
<rect x="262.90" y="210.00" width="0.60" height="14.70" fill="#31698d"/>
<rect x="262.90" y="224.00" width="0.60" height="14.90" fill="#39568b"/>
<rect x="262.90" y="238.20" width="0.60" height="14.70" fill="#3d4e89"/>
<rect x="262.90" y="252.20" width="0.60" height="14.60" fill="#3a538a"/>
<rect x="262.90" y="266.10" width="0.60" height="13.50" fill="#404687"/>
<text x="472.90" y="206.30" font-size="9" fill="#e0665c" text-anchor="start" stroke="#e0665c" stroke-width="0.12" textLength="23.70" lengthAdjust="spacingAndGlyphs" >in vitro</text>
<text x="472.90" y="218.40" font-size="9" fill="#7cc3c9" text-anchor="start" stroke="#7cc3c9" stroke-width="0.12" textLength="21.80" lengthAdjust="spacingAndGlyphs" >in vivo</text>
<defs><linearGradient id="gv" x1="0" y1="0" x2="0" y2="1"><stop offset="0.0" stop-color="#fde725"/><stop offset="0.1" stop-color="#bddf26"/><stop offset="0.2" stop-color="#7ad151"/><stop offset="0.3" stop-color="#44bf70"/><stop offset="0.4" stop-color="#22a884"/><stop offset="0.5" stop-color="#21918c"/><stop offset="0.6" stop-color="#2a788e"/><stop offset="0.7" stop-color="#355f8d"/><stop offset="0.8" stop-color="#414487"/><stop offset="0.9" stop-color="#482475"/><stop offset="1.0" stop-color="#440154"/></linearGradient>
<linearGradient id="gp" x1="0" y1="0" x2="0" y2="1"><stop offset="0.0" stop-color="#440154"/><stop offset="0.1" stop-color="#482475"/><stop offset="0.2" stop-color="#414487"/><stop offset="0.3" stop-color="#3a5e85"/><stop offset="0.4" stop-color="#337588"/><stop offset="0.5" stop-color="#2d8c88"/><stop offset="0.6" stop-color="#2fa183"/><stop offset="0.7" stop-color="#50b875"/><stop offset="0.8" stop-color="#81cb5e"/><stop offset="0.9" stop-color="#bddf26"/><stop offset="1.0" stop-color="#fde725"/></linearGradient></defs>
<rect x="482.6" y="231.2" width="9.3" height="46.1" fill="url(#gv)"/>
<text x="494.70" y="238.40" font-size="9" fill="#333" text-anchor="start" stroke="#333" stroke-width="0.12" textLength="16.30" lengthAdjust="spacingAndGlyphs" >High</text>
<text x="494.70" y="277.20" font-size="9" fill="#333" text-anchor="start" stroke="#333" stroke-width="0.12" textLength="14.60" lengthAdjust="spacingAndGlyphs" >Low</text>
<text x="479.70" y="255.60" font-size="10.4" fill="#333" text-anchor="middle" stroke="#333" stroke-width="0.12" textLength="35.50" lengthAdjust="spacingAndGlyphs" transform="rotate(-90 479.70 255.60)" >Expression</text>
<text x="195.40" y="304.90" font-size="12.3" fill="#111" text-anchor="start" font-weight="bold" textLength="6.70" lengthAdjust="spacingAndGlyphs" >F</text>
<line x1="314.8" y1="310.8" x2="314.8" y2="440.5" stroke="#222" stroke-width="1.4"/>
<line x1="314.1" y1="439.8" x2="465" y2="439.8" stroke="#222" stroke-width="1.4"/>
<rect x="321.50" y="311.70" width="135.62" height="6.3" fill="#efe040"/>
<line x1="312.3" y1="314.80" x2="314.8" y2="314.80" stroke="#222" stroke-width="1.1"/>
<text x="229.50" y="317.20" font-size="7.4" fill="#333" text-anchor="start" stroke="#333" stroke-width="0.12" textLength="78.80" lengthAdjust="spacingAndGlyphs" >PATZ1 – GGGGGGGGGGCC</text>
<rect x="321.50" y="318.79" width="113.75" height="6.3" fill="#94c166"/>
<line x1="312.3" y1="321.89" x2="314.8" y2="321.89" stroke="#222" stroke-width="1.1"/>
<text x="233.00" y="324.29" font-size="7.4" fill="#333" text-anchor="start" stroke="#333" stroke-width="0.12" textLength="75.30" lengthAdjust="spacingAndGlyphs" >NFKB1 – GGGACTTTCCA</text>
<rect x="321.50" y="325.88" width="109.38" height="6.3" fill="#404a90"/>
<line x1="312.3" y1="328.98" x2="314.8" y2="328.98" stroke="#222" stroke-width="1.1"/>
<text x="242.70" y="331.38" font-size="7.4" fill="#333" text-anchor="start" stroke="#333" stroke-width="0.12" textLength="65.60" lengthAdjust="spacingAndGlyphs" >RELA – GGGAATTTCC</text>
<rect x="321.50" y="332.97" width="105.00" height="6.3" fill="#433b80"/>
<line x1="312.3" y1="336.07" x2="314.8" y2="336.07" stroke="#222" stroke-width="1.1"/>
<text x="241.50" y="338.47" font-size="7.4" fill="#333" text-anchor="start" stroke="#333" stroke-width="0.12" textLength="66.80" lengthAdjust="spacingAndGlyphs" >SP1 – GGGGGCGGGG</text>
<rect x="321.50" y="340.06" width="105.00" height="6.3" fill="#414a90"/>
<line x1="312.3" y1="343.16" x2="314.8" y2="343.16" stroke="#222" stroke-width="1.1"/>
<text x="238.10" y="345.56" font-size="7.4" fill="#333" text-anchor="start" stroke="#333" stroke-width="0.12" textLength="70.20" lengthAdjust="spacingAndGlyphs" >NFKB1 – GGGAATTTCC</text>
<rect x="321.50" y="347.15" width="105.00" height="6.3" fill="#3e3580"/>
<line x1="312.3" y1="350.25" x2="314.8" y2="350.25" stroke="#222" stroke-width="1.1"/>
<text x="226.50" y="352.65" font-size="7.4" fill="#4d55a8" text-anchor="start" stroke="#4d55a8" stroke-width="0.12" textLength="81.80" lengthAdjust="spacingAndGlyphs" >EGR1 – GCGGGGGCGGGG</text>
<rect x="321.50" y="354.24" width="105.00" height="6.3" fill="#c0d04a"/>
<line x1="312.3" y1="357.34" x2="314.8" y2="357.34" stroke="#222" stroke-width="1.1"/>
<text x="246.20" y="359.74" font-size="7.4" fill="#333" text-anchor="start" stroke="#333" stroke-width="0.12" textLength="62.10" lengthAdjust="spacingAndGlyphs" >CREB1 – TGACGTCA</text>
<rect x="321.50" y="361.33" width="96.25" height="6.3" fill="#7aa585"/>
<line x1="312.3" y1="364.43" x2="314.8" y2="364.43" stroke="#222" stroke-width="1.1"/>
<text x="251.90" y="366.83" font-size="7.4" fill="#333" text-anchor="start" stroke="#333" stroke-width="0.12" textLength="56.40" lengthAdjust="spacingAndGlyphs" >REL – GGGATTTCC</text>
<rect x="321.50" y="368.42" width="96.25" height="6.3" fill="#52708f"/>
<line x1="312.3" y1="371.52" x2="314.8" y2="371.52" stroke="#222" stroke-width="1.1"/>
<text x="232.30" y="373.92" font-size="7.4" fill="#333" text-anchor="start" stroke="#333" stroke-width="0.12" textLength="76.00" lengthAdjust="spacingAndGlyphs" >NFKB1 – GGGGACTTTCC</text>
<rect x="321.50" y="375.51" width="96.25" height="6.3" fill="#bfd24a"/>
<line x1="312.3" y1="378.61" x2="314.8" y2="378.61" stroke="#222" stroke-width="1.1"/>
<text x="245.50" y="381.01" font-size="7.4" fill="#333" text-anchor="start" stroke="#333" stroke-width="0.12" textLength="62.80" lengthAdjust="spacingAndGlyphs" >CREB1 – GGTGACGT</text>
<rect x="321.50" y="382.60" width="87.50" height="6.3" fill="#dfe044"/>
<line x1="312.3" y1="385.70" x2="314.8" y2="385.70" stroke="#222" stroke-width="1.1"/>
<text x="212.00" y="388.10" font-size="7.4" fill="#333" text-anchor="start" stroke="#333" stroke-width="0.12" textLength="96.30" lengthAdjust="spacingAndGlyphs" >MYB – CCAATGGCGGTTGGGGG</text>
<rect x="321.50" y="389.69" width="87.50" height="6.3" fill="#2e1a50"/>
<line x1="312.3" y1="392.79" x2="314.8" y2="392.79" stroke="#222" stroke-width="1.1"/>
<text x="243.40" y="395.19" font-size="7.4" fill="#333" text-anchor="start" stroke="#333" stroke-width="0.12" textLength="64.90" lengthAdjust="spacingAndGlyphs" >KLF5 – GGGCGGGGC</text>
<rect x="321.50" y="396.78" width="61.25" height="6.3" fill="#6d9d86"/>
<line x1="312.3" y1="399.88" x2="314.8" y2="399.88" stroke="#222" stroke-width="1.1"/>
<text x="241.50" y="402.28" font-size="7.4" fill="#333" text-anchor="start" stroke="#333" stroke-width="0.12" textLength="66.80" lengthAdjust="spacingAndGlyphs" >MZF1 – GAGGGGGAA</text>
<rect x="321.50" y="403.87" width="56.88" height="6.3" fill="#7aa87d"/>
<line x1="312.3" y1="406.97" x2="314.8" y2="406.97" stroke="#222" stroke-width="1.1"/>
<text x="239.70" y="409.37" font-size="7.4" fill="#333" text-anchor="start" stroke="#333" stroke-width="0.12" textLength="68.60" lengthAdjust="spacingAndGlyphs" >ZNF281 – GGGGGTGG</text>
<rect x="321.50" y="410.96" width="56.88" height="6.3" fill="#40478c"/>
<line x1="312.3" y1="414.06" x2="314.8" y2="414.06" stroke="#222" stroke-width="1.1"/>
<text x="250.80" y="416.46" font-size="7.4" fill="#333" text-anchor="start" stroke="#333" stroke-width="0.12" textLength="57.50" lengthAdjust="spacingAndGlyphs" >MZF1 – AGGGGGA</text>
<rect x="321.50" y="418.05" width="48.12" height="6.3" fill="#3c2e6e"/>
<line x1="312.3" y1="421.15" x2="314.8" y2="421.15" stroke="#222" stroke-width="1.1"/>
<text x="260.50" y="423.55" font-size="7.4" fill="#333" text-anchor="start" stroke="#333" stroke-width="0.12" textLength="47.80" lengthAdjust="spacingAndGlyphs" >MZF1 – GGGGA</text>
<rect x="321.50" y="425.14" width="39.38" height="6.3" fill="#f0e040"/>
<line x1="312.3" y1="428.24" x2="314.8" y2="428.24" stroke="#222" stroke-width="1.1"/>
<text x="258.40" y="430.64" font-size="7.4" fill="#333" text-anchor="start" stroke="#333" stroke-width="0.12" textLength="49.90" lengthAdjust="spacingAndGlyphs" >ZNF202 – GGGG</text>
<rect x="321.50" y="432.23" width="35.00" height="6.3" fill="#434e8e"/>
<line x1="312.3" y1="435.33" x2="314.8" y2="435.33" stroke="#222" stroke-width="1.1"/>
<text x="254.70" y="437.73" font-size="7.4" fill="#333" text-anchor="start" stroke="#333" stroke-width="0.12" textLength="53.60" lengthAdjust="spacingAndGlyphs" >GCM1 – TGCGGG</text>
<line x1="321.50" y1="439.8" x2="321.50" y2="442.3" stroke="#222" stroke-width="1"/>
<text x="321.50" y="452.40" font-size="8.5" fill="#333" text-anchor="middle" stroke="#333" stroke-width="0.12" >0</text>
<line x1="365.25" y1="439.8" x2="365.25" y2="442.3" stroke="#222" stroke-width="1"/>
<text x="365.25" y="452.40" font-size="8.5" fill="#333" text-anchor="middle" stroke="#333" stroke-width="0.12" >10</text>
<line x1="409.00" y1="439.8" x2="409.00" y2="442.3" stroke="#222" stroke-width="1"/>
<text x="409.00" y="452.40" font-size="8.5" fill="#333" text-anchor="middle" stroke="#333" stroke-width="0.12" >20</text>
<line x1="452.75" y1="439.8" x2="452.75" y2="442.3" stroke="#222" stroke-width="1"/>
<text x="452.75" y="452.40" font-size="8.5" fill="#333" text-anchor="middle" stroke="#333" stroke-width="0.12" >30</text>
<text x="389.20" y="466.00" font-size="10.6" fill="#333" text-anchor="middle" stroke="#333" stroke-width="0.12" textLength="18.20" lengthAdjust="spacingAndGlyphs" >Score</text>
<text x="470.00" y="346.40" font-size="9.6" fill="#333" text-anchor="start" stroke="#333" stroke-width="0.12" textLength="17.00" lengthAdjust="spacingAndGlyphs" >P.val.</text>
<rect x="469.6" y="350.4" width="12.4" height="60.4" fill="url(#gp)"/>
<line x1="469.6" y1="364.2" x2="472" y2="364.2" stroke="#fff" stroke-width="0.6"/>
<line x1="479.7" y1="364.2" x2="482" y2="364.2" stroke="#fff" stroke-width="0.6"/>
<text x="487.40" y="367.20" font-size="8.5" fill="#333" text-anchor="start" stroke="#333" stroke-width="0.12" textLength="20.20" lengthAdjust="spacingAndGlyphs" >0.009</text>
<line x1="469.6" y1="378.9" x2="472" y2="378.9" stroke="#fff" stroke-width="0.6"/>
<line x1="479.7" y1="378.9" x2="482" y2="378.9" stroke="#fff" stroke-width="0.6"/>
<text x="487.40" y="381.90" font-size="8.5" fill="#333" text-anchor="start" stroke="#333" stroke-width="0.12" textLength="20.20" lengthAdjust="spacingAndGlyphs" >0.006</text>
<line x1="469.6" y1="393.6" x2="472" y2="393.6" stroke="#fff" stroke-width="0.6"/>
<line x1="479.7" y1="393.6" x2="482" y2="393.6" stroke="#fff" stroke-width="0.6"/>
<text x="487.40" y="396.60" font-size="8.5" fill="#333" text-anchor="start" stroke="#333" stroke-width="0.12" textLength="20.20" lengthAdjust="spacingAndGlyphs" >0.003</text>
</svg></body></html>
